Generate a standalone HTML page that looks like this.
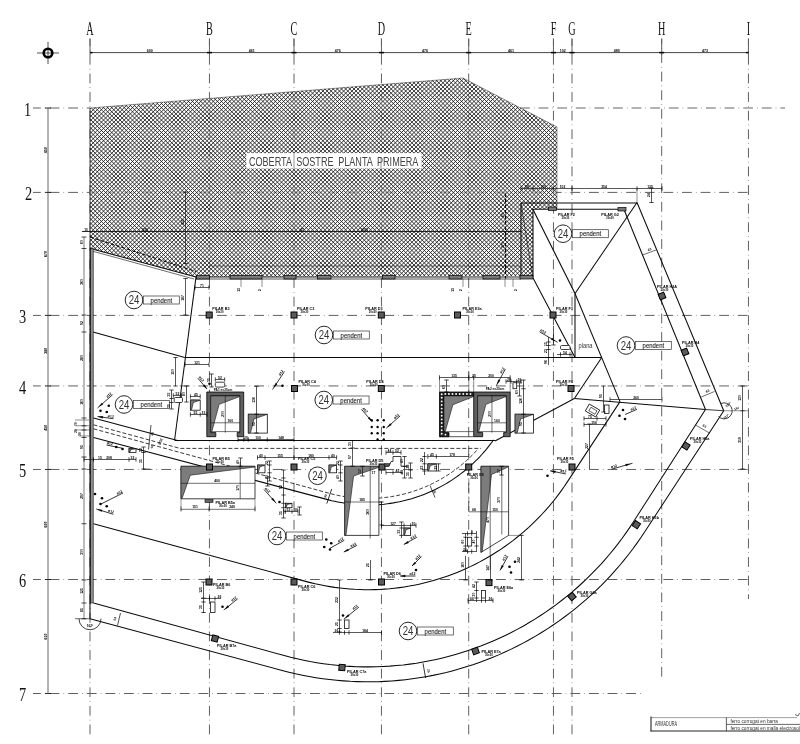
<!DOCTYPE html>
<html><head><meta charset="utf-8"><title>Planta</title>
<style>
html,body{margin:0;padding:0;background:#fff;}
body{width:800px;height:744px;overflow:hidden;font-family:"Liberation Sans",sans-serif;}
svg{display:block}
</style></head><body>
<svg width="800" height="744" viewBox="0 0 800 744">
<defs>
<pattern id="xh" width="2.07" height="2.07" patternUnits="userSpaceOnUse">
<rect x="0" y="0" width="1.035" height="1.035" fill="#222"/>
<rect x="1.035" y="1.035" width="1.035" height="1.035" fill="#222"/>
</pattern>
<pattern id="dg" width="1.6" height="1.6" patternUnits="userSpaceOnUse" patternTransform="rotate(-45)">
<rect x="0" y="0" width="1.6" height="0.9" fill="#333"/>
</pattern>
</defs>
<rect width="800" height="744" fill="#fff"/>
<g opacity="0.999">
<line x1="90.00" y1="38.60" x2="90.00" y2="738.00" stroke="#606060" stroke-width="1.0" stroke-dasharray="9.8 4.1 0.6 4.1" stroke-dashoffset="2.3"/>
<line x1="209.45" y1="38.60" x2="209.45" y2="738.00" stroke="#606060" stroke-width="1.0" stroke-dasharray="9.8 4.1 0.6 4.1" stroke-dashoffset="2.3"/>
<line x1="294.00" y1="38.60" x2="294.00" y2="738.00" stroke="#606060" stroke-width="1.0" stroke-dasharray="9.8 4.1 0.6 4.1" stroke-dashoffset="2.3"/>
<line x1="381.45" y1="38.60" x2="381.45" y2="738.00" stroke="#606060" stroke-width="1.0" stroke-dasharray="9.8 4.1 0.6 4.1" stroke-dashoffset="2.3"/>
<line x1="468.70" y1="38.60" x2="468.70" y2="738.00" stroke="#606060" stroke-width="1.0" stroke-dasharray="9.8 4.1 0.6 4.1" stroke-dashoffset="2.3"/>
<line x1="553.45" y1="38.60" x2="553.45" y2="738.00" stroke="#606060" stroke-width="1.0" stroke-dasharray="9.8 4.1 0.6 4.1" stroke-dashoffset="2.3"/>
<line x1="572.00" y1="38.60" x2="572.00" y2="738.00" stroke="#606060" stroke-width="1.0" stroke-dasharray="9.8 4.1 0.6 4.1" stroke-dashoffset="2.3"/>
<line x1="661.70" y1="38.60" x2="661.70" y2="677.50" stroke="#606060" stroke-width="1.0" stroke-dasharray="9.8 4.1 0.6 4.1" stroke-dashoffset="4.1"/>
<line x1="748.45" y1="38.60" x2="748.45" y2="599.00" stroke="#606060" stroke-width="1.0" stroke-dasharray="9.8 4.1 0.6 4.1" stroke-dashoffset="2.3"/>
<line x1="33.00" y1="108.00" x2="90.00" y2="108.00" stroke="#606060" stroke-width="1.0" stroke-dasharray="9.8 4.1 0.6 4.1" stroke-dashoffset="2.0"/>
<line x1="520.00" y1="108.00" x2="785.00" y2="108.00" stroke="#999" stroke-width="1.5" stroke-dasharray="9.8 4.1 0.6 4.1" stroke-dashoffset="0"/>
<line x1="33.00" y1="192.40" x2="750.00" y2="192.40" stroke="#606060" stroke-width="1.0" stroke-dasharray="9.8 4.1 0.6 4.1" stroke-dashoffset="2.0"/>
<line x1="33.00" y1="315.40" x2="750.00" y2="315.40" stroke="#606060" stroke-width="1.0" stroke-dasharray="9.8 4.1 0.6 4.1" stroke-dashoffset="2.0"/>
<line x1="33.00" y1="385.95" x2="750.00" y2="385.95" stroke="#606060" stroke-width="1.0" stroke-dasharray="9.8 4.1 0.6 4.1" stroke-dashoffset="2.0"/>
<line x1="33.00" y1="469.45" x2="750.00" y2="469.45" stroke="#606060" stroke-width="1.0" stroke-dasharray="9.8 4.1 0.6 4.1" stroke-dashoffset="2.0"/>
<line x1="33.00" y1="579.50" x2="750.00" y2="579.50" stroke="#606060" stroke-width="1.0" stroke-dasharray="9.8 4.1 0.6 4.1" stroke-dashoffset="2.0"/>
<line x1="33.00" y1="693.50" x2="644.50" y2="693.50" stroke="#606060" stroke-width="1.0" stroke-dasharray="9.8 4.1 0.6 4.1" stroke-dashoffset="2.0"/>
<path d="M90.00 108.00 L463.00 78.00 L557.00 127.00 L557.00 209.00 L533.00 209.00 L533.00 276.00 L196.00 277.00 L90.00 248.50 Z" stroke="none" stroke-width="0" fill="#fff" fill-opacity="0.6"/>
<clipPath id="hc"><path d="M90.00 108.00 L463.00 78.00 L557.00 127.00 L557.00 209.00 L533.00 209.00 L533.00 276.00 L196.00 277.00 L90.00 248.50 Z"/></clipPath>
<path d="M85.46 76.00L-117.54 279.00M89.60 76.00L-113.40 279.00M93.74 76.00L-109.26 279.00M97.88 76.00L-105.12 279.00M102.02 76.00L-100.98 279.00M106.16 76.00L-96.84 279.00M110.30 76.00L-92.70 279.00M114.44 76.00L-88.56 279.00M118.58 76.00L-84.42 279.00M122.72 76.00L-80.28 279.00M126.86 76.00L-76.14 279.00M131.00 76.00L-72.00 279.00M135.14 76.00L-67.86 279.00M139.28 76.00L-63.72 279.00M143.42 76.00L-59.58 279.00M147.56 76.00L-55.44 279.00M151.70 76.00L-51.30 279.00M155.84 76.00L-47.16 279.00M159.98 76.00L-43.02 279.00M164.12 76.00L-38.88 279.00M168.26 76.00L-34.74 279.00M172.40 76.00L-30.60 279.00M176.54 76.00L-26.46 279.00M180.68 76.00L-22.32 279.00M184.82 76.00L-18.18 279.00M188.96 76.00L-14.04 279.00M193.10 76.00L-9.90 279.00M197.24 76.00L-5.76 279.00M201.38 76.00L-1.62 279.00M205.52 76.00L2.52 279.00M209.66 76.00L6.66 279.00M213.80 76.00L10.80 279.00M217.94 76.00L14.94 279.00M222.08 76.00L19.08 279.00M226.22 76.00L23.22 279.00M230.36 76.00L27.36 279.00M234.50 76.00L31.50 279.00M238.64 76.00L35.64 279.00M242.78 76.00L39.78 279.00M246.92 76.00L43.92 279.00M251.06 76.00L48.06 279.00M255.20 76.00L52.20 279.00M259.34 76.00L56.34 279.00M263.48 76.00L60.48 279.00M267.62 76.00L64.62 279.00M271.76 76.00L68.76 279.00M275.90 76.00L72.90 279.00M280.04 76.00L77.04 279.00M284.18 76.00L81.18 279.00M288.32 76.00L85.32 279.00M292.46 76.00L89.46 279.00M296.60 76.00L93.60 279.00M300.74 76.00L97.74 279.00M304.88 76.00L101.88 279.00M309.02 76.00L106.02 279.00M313.16 76.00L110.16 279.00M317.30 76.00L114.30 279.00M321.44 76.00L118.44 279.00M325.58 76.00L122.58 279.00M329.72 76.00L126.72 279.00M333.86 76.00L130.86 279.00M338.00 76.00L135.00 279.00M342.14 76.00L139.14 279.00M346.28 76.00L143.28 279.00M350.42 76.00L147.42 279.00M354.56 76.00L151.56 279.00M358.70 76.00L155.70 279.00M362.84 76.00L159.84 279.00M366.98 76.00L163.98 279.00M371.12 76.00L168.12 279.00M375.26 76.00L172.26 279.00M379.40 76.00L176.40 279.00M383.54 76.00L180.54 279.00M387.68 76.00L184.68 279.00M391.82 76.00L188.82 279.00M395.96 76.00L192.96 279.00M400.10 76.00L197.10 279.00M404.24 76.00L201.24 279.00M408.38 76.00L205.38 279.00M412.52 76.00L209.52 279.00M416.66 76.00L213.66 279.00M420.80 76.00L217.80 279.00M424.94 76.00L221.94 279.00M429.08 76.00L226.08 279.00M433.22 76.00L230.22 279.00M437.36 76.00L234.36 279.00M441.50 76.00L238.50 279.00M445.64 76.00L242.64 279.00M449.78 76.00L246.78 279.00M453.92 76.00L250.92 279.00M458.06 76.00L255.06 279.00M462.20 76.00L259.20 279.00M466.34 76.00L263.34 279.00M470.48 76.00L267.48 279.00M474.62 76.00L271.62 279.00M478.76 76.00L275.76 279.00M482.90 76.00L279.90 279.00M487.04 76.00L284.04 279.00M491.18 76.00L288.18 279.00M495.32 76.00L292.32 279.00M499.46 76.00L296.46 279.00M503.60 76.00L300.60 279.00M507.74 76.00L304.74 279.00M511.88 76.00L308.88 279.00M516.02 76.00L313.02 279.00M520.16 76.00L317.16 279.00M524.30 76.00L321.30 279.00M528.44 76.00L325.44 279.00M532.58 76.00L329.58 279.00M536.72 76.00L333.72 279.00M540.86 76.00L337.86 279.00M545.00 76.00L342.00 279.00M549.14 76.00L346.14 279.00M553.28 76.00L350.28 279.00M557.42 76.00L354.42 279.00M561.56 76.00L358.56 279.00M565.70 76.00L362.70 279.00M569.84 76.00L366.84 279.00M573.98 76.00L370.98 279.00M578.12 76.00L375.12 279.00M582.26 76.00L379.26 279.00M586.40 76.00L383.40 279.00M590.54 76.00L387.54 279.00M594.68 76.00L391.68 279.00M598.82 76.00L395.82 279.00M602.96 76.00L399.96 279.00M607.10 76.00L404.10 279.00M611.24 76.00L408.24 279.00M615.38 76.00L412.38 279.00M619.52 76.00L416.52 279.00M623.66 76.00L420.66 279.00M627.80 76.00L424.80 279.00M631.94 76.00L428.94 279.00M636.08 76.00L433.08 279.00M640.22 76.00L437.22 279.00M644.36 76.00L441.36 279.00M648.50 76.00L445.50 279.00M652.64 76.00L449.64 279.00M656.78 76.00L453.78 279.00M660.92 76.00L457.92 279.00M665.06 76.00L462.06 279.00M669.20 76.00L466.20 279.00M673.34 76.00L470.34 279.00M677.48 76.00L474.48 279.00M681.62 76.00L478.62 279.00M685.76 76.00L482.76 279.00M689.90 76.00L486.90 279.00M694.04 76.00L491.04 279.00M698.18 76.00L495.18 279.00M702.32 76.00L499.32 279.00M706.46 76.00L503.46 279.00M710.60 76.00L507.60 279.00M714.74 76.00L511.74 279.00M718.88 76.00L515.88 279.00M723.02 76.00L520.02 279.00M727.16 76.00L524.16 279.00M731.30 76.00L528.30 279.00M735.44 76.00L532.44 279.00M739.58 76.00L536.58 279.00M743.72 76.00L540.72 279.00M747.86 76.00L544.86 279.00M752.00 76.00L549.00 279.00M756.14 76.00L553.14 279.00M760.28 76.00L557.28 279.00M-118.58 76.00L84.42 279.00M-114.44 76.00L88.56 279.00M-110.30 76.00L92.70 279.00M-106.16 76.00L96.84 279.00M-102.02 76.00L100.98 279.00M-97.88 76.00L105.12 279.00M-93.74 76.00L109.26 279.00M-89.60 76.00L113.40 279.00M-85.46 76.00L117.54 279.00M-81.32 76.00L121.68 279.00M-77.18 76.00L125.82 279.00M-73.04 76.00L129.96 279.00M-68.90 76.00L134.10 279.00M-64.76 76.00L138.24 279.00M-60.62 76.00L142.38 279.00M-56.48 76.00L146.52 279.00M-52.34 76.00L150.66 279.00M-48.20 76.00L154.80 279.00M-44.06 76.00L158.94 279.00M-39.92 76.00L163.08 279.00M-35.78 76.00L167.22 279.00M-31.64 76.00L171.36 279.00M-27.50 76.00L175.50 279.00M-23.36 76.00L179.64 279.00M-19.22 76.00L183.78 279.00M-15.08 76.00L187.92 279.00M-10.94 76.00L192.06 279.00M-6.80 76.00L196.20 279.00M-2.66 76.00L200.34 279.00M1.48 76.00L204.48 279.00M5.62 76.00L208.62 279.00M9.76 76.00L212.76 279.00M13.90 76.00L216.90 279.00M18.04 76.00L221.04 279.00M22.18 76.00L225.18 279.00M26.32 76.00L229.32 279.00M30.46 76.00L233.46 279.00M34.60 76.00L237.60 279.00M38.74 76.00L241.74 279.00M42.88 76.00L245.88 279.00M47.02 76.00L250.02 279.00M51.16 76.00L254.16 279.00M55.30 76.00L258.30 279.00M59.44 76.00L262.44 279.00M63.58 76.00L266.58 279.00M67.72 76.00L270.72 279.00M71.86 76.00L274.86 279.00M76.00 76.00L279.00 279.00M80.14 76.00L283.14 279.00M84.28 76.00L287.28 279.00M88.42 76.00L291.42 279.00M92.56 76.00L295.56 279.00M96.70 76.00L299.70 279.00M100.84 76.00L303.84 279.00M104.98 76.00L307.98 279.00M109.12 76.00L312.12 279.00M113.26 76.00L316.26 279.00M117.40 76.00L320.40 279.00M121.54 76.00L324.54 279.00M125.68 76.00L328.68 279.00M129.82 76.00L332.82 279.00M133.96 76.00L336.96 279.00M138.10 76.00L341.10 279.00M142.24 76.00L345.24 279.00M146.38 76.00L349.38 279.00M150.52 76.00L353.52 279.00M154.66 76.00L357.66 279.00M158.80 76.00L361.80 279.00M162.94 76.00L365.94 279.00M167.08 76.00L370.08 279.00M171.22 76.00L374.22 279.00M175.36 76.00L378.36 279.00M179.50 76.00L382.50 279.00M183.64 76.00L386.64 279.00M187.78 76.00L390.78 279.00M191.92 76.00L394.92 279.00M196.06 76.00L399.06 279.00M200.20 76.00L403.20 279.00M204.34 76.00L407.34 279.00M208.48 76.00L411.48 279.00M212.62 76.00L415.62 279.00M216.76 76.00L419.76 279.00M220.90 76.00L423.90 279.00M225.04 76.00L428.04 279.00M229.18 76.00L432.18 279.00M233.32 76.00L436.32 279.00M237.46 76.00L440.46 279.00M241.60 76.00L444.60 279.00M245.74 76.00L448.74 279.00M249.88 76.00L452.88 279.00M254.02 76.00L457.02 279.00M258.16 76.00L461.16 279.00M262.30 76.00L465.30 279.00M266.44 76.00L469.44 279.00M270.58 76.00L473.58 279.00M274.72 76.00L477.72 279.00M278.86 76.00L481.86 279.00M283.00 76.00L486.00 279.00M287.14 76.00L490.14 279.00M291.28 76.00L494.28 279.00M295.42 76.00L498.42 279.00M299.56 76.00L502.56 279.00M303.70 76.00L506.70 279.00M307.84 76.00L510.84 279.00M311.98 76.00L514.98 279.00M316.12 76.00L519.12 279.00M320.26 76.00L523.26 279.00M324.40 76.00L527.40 279.00M328.54 76.00L531.54 279.00M332.68 76.00L535.68 279.00M336.82 76.00L539.82 279.00M340.96 76.00L543.96 279.00M345.10 76.00L548.10 279.00M349.24 76.00L552.24 279.00M353.38 76.00L556.38 279.00M357.52 76.00L560.52 279.00M361.66 76.00L564.66 279.00M365.80 76.00L568.80 279.00M369.94 76.00L572.94 279.00M374.08 76.00L577.08 279.00M378.22 76.00L581.22 279.00M382.36 76.00L585.36 279.00M386.50 76.00L589.50 279.00M390.64 76.00L593.64 279.00M394.78 76.00L597.78 279.00M398.92 76.00L601.92 279.00M403.06 76.00L606.06 279.00M407.20 76.00L610.20 279.00M411.34 76.00L614.34 279.00M415.48 76.00L618.48 279.00M419.62 76.00L622.62 279.00M423.76 76.00L626.76 279.00M427.90 76.00L630.90 279.00M432.04 76.00L635.04 279.00M436.18 76.00L639.18 279.00M440.32 76.00L643.32 279.00M444.46 76.00L647.46 279.00M448.60 76.00L651.60 279.00M452.74 76.00L655.74 279.00M456.88 76.00L659.88 279.00M461.02 76.00L664.02 279.00M465.16 76.00L668.16 279.00M469.30 76.00L672.30 279.00M473.44 76.00L676.44 279.00M477.58 76.00L680.58 279.00M481.72 76.00L684.72 279.00M485.86 76.00L688.86 279.00M490.00 76.00L693.00 279.00M494.14 76.00L697.14 279.00M498.28 76.00L701.28 279.00M502.42 76.00L705.42 279.00M506.56 76.00L709.56 279.00M510.70 76.00L713.70 279.00M514.84 76.00L717.84 279.00M518.98 76.00L721.98 279.00M523.12 76.00L726.12 279.00M527.26 76.00L730.26 279.00M531.40 76.00L734.40 279.00M535.54 76.00L738.54 279.00M539.68 76.00L742.68 279.00M543.82 76.00L746.82 279.00M547.96 76.00L750.96 279.00M552.10 76.00L755.10 279.00M556.24 76.00L759.24 279.00" stroke="#202020" stroke-width="0.9" fill="none" clip-path="url(#hc)"/>
<path d="M90.00 108.00 L463.00 78.00 L557.00 127.00 L557.00 209.00" stroke="#333" stroke-width="0.5" fill="none" />
<line x1="90.00" y1="108.00" x2="90.00" y2="248.50" stroke="#222" stroke-width="0.8" />
<text transform="translate(90.00 34.60) scale(0.55 1)" font-family="Liberation Serif" font-size="18.5" text-anchor="middle" font-weight="normal" fill="#111" >A</text>
<text transform="translate(209.45 34.60) scale(0.55 1)" font-family="Liberation Serif" font-size="18.5" text-anchor="middle" font-weight="normal" fill="#111" >B</text>
<text transform="translate(294.00 34.60) scale(0.55 1)" font-family="Liberation Serif" font-size="18.5" text-anchor="middle" font-weight="normal" fill="#111" >C</text>
<text transform="translate(381.45 34.60) scale(0.55 1)" font-family="Liberation Serif" font-size="18.5" text-anchor="middle" font-weight="normal" fill="#111" >D</text>
<text transform="translate(468.70 34.60) scale(0.55 1)" font-family="Liberation Serif" font-size="18.5" text-anchor="middle" font-weight="normal" fill="#111" >E</text>
<text transform="translate(553.45 34.60) scale(0.55 1)" font-family="Liberation Serif" font-size="18.5" text-anchor="middle" font-weight="normal" fill="#111" >F</text>
<text transform="translate(572.00 34.60) scale(0.55 1)" font-family="Liberation Serif" font-size="18.5" text-anchor="middle" font-weight="normal" fill="#111" >G</text>
<text transform="translate(661.70 34.60) scale(0.55 1)" font-family="Liberation Serif" font-size="18.5" text-anchor="middle" font-weight="normal" fill="#111" >H</text>
<text transform="translate(748.45 34.60) scale(0.55 1)" font-family="Liberation Serif" font-size="18.5" text-anchor="middle" font-weight="normal" fill="#111" >I</text>
<text transform="translate(27.50 115.80) scale(0.8 1)" font-family="Liberation Serif" font-size="18" text-anchor="middle" font-weight="normal" fill="#111" >1</text>
<text transform="translate(28.50 200.20) scale(0.8 1)" font-family="Liberation Serif" font-size="18" text-anchor="middle" font-weight="normal" fill="#111" >2</text>
<text transform="translate(22.50 323.20) scale(0.8 1)" font-family="Liberation Serif" font-size="18" text-anchor="middle" font-weight="normal" fill="#111" >3</text>
<text transform="translate(22.50 393.75) scale(0.8 1)" font-family="Liberation Serif" font-size="18" text-anchor="middle" font-weight="normal" fill="#111" >4</text>
<text transform="translate(22.50 477.25) scale(0.8 1)" font-family="Liberation Serif" font-size="18" text-anchor="middle" font-weight="normal" fill="#111" >5</text>
<text transform="translate(22.50 587.30) scale(0.8 1)" font-family="Liberation Serif" font-size="18" text-anchor="middle" font-weight="normal" fill="#111" >6</text>
<text transform="translate(22.50 701.30) scale(0.8 1)" font-family="Liberation Serif" font-size="18" text-anchor="middle" font-weight="normal" fill="#111" >7</text>
<circle cx="48.00" cy="53.00" r="4.30" stroke="#000" stroke-width="2.6" fill="none"/>
<line x1="37.00" y1="53.00" x2="59.00" y2="53.00" stroke="#000" stroke-width="0.7" />
<line x1="48.00" y1="42.00" x2="48.00" y2="64.00" stroke="#000" stroke-width="0.7" />
<line x1="90.00" y1="52.60" x2="748.50" y2="52.60" stroke="#333" stroke-width="0.9" />
<line x1="90.00" y1="38.60" x2="90.00" y2="55.00" stroke="#606060" stroke-width="1.0" />
<line x1="209.45" y1="38.60" x2="209.45" y2="55.00" stroke="#606060" stroke-width="1.0" />
<line x1="294.00" y1="38.60" x2="294.00" y2="55.00" stroke="#606060" stroke-width="1.0" />
<line x1="381.45" y1="38.60" x2="381.45" y2="55.00" stroke="#606060" stroke-width="1.0" />
<line x1="468.70" y1="38.60" x2="468.70" y2="55.00" stroke="#606060" stroke-width="1.0" />
<line x1="553.45" y1="38.60" x2="553.45" y2="55.00" stroke="#606060" stroke-width="1.0" />
<line x1="572.00" y1="38.60" x2="572.00" y2="55.00" stroke="#606060" stroke-width="1.0" />
<line x1="661.70" y1="38.60" x2="661.70" y2="55.00" stroke="#606060" stroke-width="1.0" />
<line x1="748.45" y1="38.60" x2="748.45" y2="55.00" stroke="#606060" stroke-width="1.0" />
<line x1="90.00" y1="52.60" x2="92.50" y2="52.60" stroke="#000" stroke-width="1.5" />
<line x1="206.95" y1="52.60" x2="211.95" y2="52.60" stroke="#000" stroke-width="1.5" />
<line x1="291.50" y1="52.60" x2="296.50" y2="52.60" stroke="#000" stroke-width="1.5" />
<line x1="378.95" y1="52.60" x2="383.95" y2="52.60" stroke="#000" stroke-width="1.5" />
<line x1="466.20" y1="52.60" x2="471.20" y2="52.60" stroke="#000" stroke-width="1.5" />
<line x1="550.95" y1="52.60" x2="555.95" y2="52.60" stroke="#000" stroke-width="1.5" />
<line x1="569.50" y1="52.60" x2="574.50" y2="52.60" stroke="#000" stroke-width="1.5" />
<line x1="659.20" y1="52.60" x2="664.20" y2="52.60" stroke="#000" stroke-width="1.5" />
<line x1="745.95" y1="52.60" x2="748.45" y2="52.60" stroke="#000" stroke-width="1.5" />
<text transform="translate(149.72 51.50)" font-family="Liberation Sans" font-size="3.6" text-anchor="middle" font-weight="bold" fill="#000" >600</text>
<text transform="translate(251.72 51.50)" font-family="Liberation Sans" font-size="3.6" text-anchor="middle" font-weight="bold" fill="#000" >461</text>
<text transform="translate(337.73 51.50)" font-family="Liberation Sans" font-size="3.6" text-anchor="middle" font-weight="bold" fill="#000" >476</text>
<text transform="translate(425.07 51.50)" font-family="Liberation Sans" font-size="3.6" text-anchor="middle" font-weight="bold" fill="#000" >476</text>
<text transform="translate(511.08 51.50)" font-family="Liberation Sans" font-size="3.6" text-anchor="middle" font-weight="bold" fill="#000" >461</text>
<text transform="translate(562.73 51.50)" font-family="Liberation Sans" font-size="3.6" text-anchor="middle" font-weight="bold" fill="#000" >102</text>
<text transform="translate(616.85 51.50)" font-family="Liberation Sans" font-size="3.6" text-anchor="middle" font-weight="bold" fill="#000" >489</text>
<text transform="translate(705.08 51.50)" font-family="Liberation Sans" font-size="3.6" text-anchor="middle" font-weight="bold" fill="#000" >473</text>
<line x1="48.00" y1="108.00" x2="48.00" y2="693.00" stroke="#555" stroke-width="0.9" />
<line x1="45.00" y1="108.00" x2="51.00" y2="108.00" stroke="#000" stroke-width="0.8" />
<line x1="45.00" y1="192.40" x2="51.00" y2="192.40" stroke="#000" stroke-width="0.8" />
<line x1="45.00" y1="315.40" x2="51.00" y2="315.40" stroke="#000" stroke-width="0.8" />
<line x1="45.00" y1="385.95" x2="51.00" y2="385.95" stroke="#000" stroke-width="0.8" />
<line x1="45.00" y1="469.45" x2="51.00" y2="469.45" stroke="#000" stroke-width="0.8" />
<line x1="45.00" y1="579.50" x2="51.00" y2="579.50" stroke="#000" stroke-width="0.8" />
<line x1="45.00" y1="693.50" x2="51.00" y2="693.50" stroke="#000" stroke-width="0.8" />
<text transform="translate(46.50 150.20) rotate(-90)" font-family="Liberation Sans" font-size="3.6" text-anchor="middle" font-weight="bold" fill="#000" >450</text>
<text transform="translate(46.50 253.90) rotate(-90)" font-family="Liberation Sans" font-size="3.6" text-anchor="middle" font-weight="bold" fill="#000" >670</text>
<text transform="translate(46.50 350.67) rotate(-90)" font-family="Liberation Sans" font-size="3.6" text-anchor="middle" font-weight="bold" fill="#000" >380</text>
<text transform="translate(46.50 427.70) rotate(-90)" font-family="Liberation Sans" font-size="3.6" text-anchor="middle" font-weight="bold" fill="#000" >450</text>
<text transform="translate(46.50 524.48) rotate(-90)" font-family="Liberation Sans" font-size="3.6" text-anchor="middle" font-weight="bold" fill="#000" >600</text>
<text transform="translate(46.50 636.50) rotate(-90)" font-family="Liberation Sans" font-size="3.6" text-anchor="middle" font-weight="bold" fill="#000" >610</text>
<line x1="84.00" y1="237.00" x2="84.00" y2="618.75" stroke="#222" stroke-width="0.6" />
<line x1="81.50" y1="237.00" x2="86.50" y2="237.00" stroke="#000" stroke-width="0.7" />
<line x1="81.50" y1="248.50" x2="86.50" y2="248.50" stroke="#000" stroke-width="0.7" />
<line x1="81.50" y1="315.00" x2="86.50" y2="315.00" stroke="#000" stroke-width="0.7" />
<line x1="81.50" y1="332.00" x2="86.50" y2="332.00" stroke="#000" stroke-width="0.7" />
<line x1="81.50" y1="418.00" x2="86.50" y2="418.00" stroke="#000" stroke-width="0.7" />
<line x1="81.50" y1="425.75" x2="86.50" y2="425.75" stroke="#000" stroke-width="0.7" />
<line x1="81.50" y1="430.00" x2="86.50" y2="430.00" stroke="#000" stroke-width="0.7" />
<line x1="81.50" y1="437.50" x2="86.50" y2="437.50" stroke="#000" stroke-width="0.7" />
<line x1="81.50" y1="457.00" x2="86.50" y2="457.00" stroke="#000" stroke-width="0.7" />
<line x1="81.50" y1="469.00" x2="86.50" y2="469.00" stroke="#000" stroke-width="0.7" />
<line x1="81.50" y1="523.75" x2="86.50" y2="523.75" stroke="#000" stroke-width="0.7" />
<line x1="81.50" y1="580.00" x2="86.50" y2="580.00" stroke="#000" stroke-width="0.7" />
<line x1="81.50" y1="603.00" x2="86.50" y2="603.00" stroke="#000" stroke-width="0.7" />
<line x1="81.50" y1="618.75" x2="86.50" y2="618.75" stroke="#000" stroke-width="0.7" />
<text transform="translate(82.50 242.00) rotate(-90)" font-family="Liberation Sans" font-size="3.4" text-anchor="middle" font-weight="bold" fill="#000" >60</text>
<text transform="translate(82.50 282.00) rotate(-90)" font-family="Liberation Sans" font-size="3.4" text-anchor="middle" font-weight="bold" fill="#000" >360</text>
<text transform="translate(82.50 323.00) rotate(-90)" font-family="Liberation Sans" font-size="3.4" text-anchor="middle" font-weight="bold" fill="#000" >92</text>
<text transform="translate(82.50 358.00) rotate(-90)" font-family="Liberation Sans" font-size="3.4" text-anchor="middle" font-weight="bold" fill="#000" >280</text>
<text transform="translate(82.50 402.00) rotate(-90)" font-family="Liberation Sans" font-size="3.4" text-anchor="middle" font-weight="bold" fill="#000" >160</text>
<text transform="translate(82.50 447.00) rotate(-90)" font-family="Liberation Sans" font-size="3.4" text-anchor="middle" font-weight="bold" fill="#000" >95</text>
<text transform="translate(82.50 496.00) rotate(-90)" font-family="Liberation Sans" font-size="3.4" text-anchor="middle" font-weight="bold" fill="#000" >297</text>
<text transform="translate(82.50 552.00) rotate(-90)" font-family="Liberation Sans" font-size="3.4" text-anchor="middle" font-weight="bold" fill="#000" >300</text>
<text transform="translate(82.50 591.00) rotate(-90)" font-family="Liberation Sans" font-size="3.4" text-anchor="middle" font-weight="bold" fill="#000" >125</text>
<text transform="translate(82.50 610.00) rotate(-90)" font-family="Liberation Sans" font-size="3.4" text-anchor="middle" font-weight="bold" fill="#000" >85</text>
<line x1="75.00" y1="618.75" x2="90.00" y2="618.75" stroke="#000" stroke-width="0.6" />
<line x1="82.00" y1="231.50" x2="521.00" y2="231.50" stroke="#111" stroke-width="0.9" />
<text transform="translate(86.00 231.00)" font-family="Liberation Sans" font-size="3.2" text-anchor="middle" font-weight="bold" fill="#000" >15</text>
<line x1="196.00" y1="277.00" x2="533.00" y2="277.00" stroke="#0a0a0a" stroke-width="0.9" />
<line x1="196.00" y1="279.00" x2="521.00" y2="279.00" stroke="#0a0a0a" stroke-width="0.7" />
<line x1="90.50" y1="248.50" x2="196.00" y2="277.00" stroke="#0a0a0a" stroke-width="1.05" />
<line x1="92.00" y1="251.00" x2="194.00" y2="279.00" stroke="#0a0a0a" stroke-width="0.6" />
<line x1="90.00" y1="237.00" x2="196.00" y2="271.50" stroke="#000" stroke-width="1.0" stroke-dasharray="3.5 2"/>
<line x1="521.00" y1="203.00" x2="637.00" y2="203.00" stroke="#0a0a0a" stroke-width="1.05" />
<line x1="533.00" y1="209.30" x2="624.00" y2="209.30" stroke="#0a0a0a" stroke-width="1.05" />
<line x1="521.00" y1="203.00" x2="521.00" y2="277.00" stroke="#0a0a0a" stroke-width="1.05" />
<line x1="533.00" y1="209.30" x2="533.00" y2="277.00" stroke="#0a0a0a" stroke-width="1.05" />
<line x1="521.00" y1="203.00" x2="532.50" y2="276.00" stroke="#0a0a0a" stroke-width="0.6" />
<line x1="637.00" y1="202.50" x2="723.75" y2="410.75" stroke="#0a0a0a" stroke-width="1.05" />
<line x1="624.00" y1="209.50" x2="705.50" y2="409.50" stroke="#0a0a0a" stroke-width="1.05" />
<line x1="637.00" y1="202.50" x2="575.00" y2="293.50" stroke="#0a0a0a" stroke-width="1.05" />
<line x1="533.00" y1="209.50" x2="575.00" y2="293.50" stroke="#0a0a0a" stroke-width="1.05" />
<line x1="532.50" y1="277.00" x2="575.00" y2="357.50" stroke="#0a0a0a" stroke-width="1.05" />
<line x1="575.00" y1="293.50" x2="575.00" y2="357.50" stroke="#0a0a0a" stroke-width="1.05" />
<line x1="575.00" y1="293.50" x2="620.00" y2="401.60" stroke="#0a0a0a" stroke-width="1.05" />
<line x1="184.80" y1="357.50" x2="601.70" y2="357.50" stroke="#0a0a0a" stroke-width="1.05" />
<line x1="93.00" y1="332.00" x2="184.80" y2="357.50" stroke="#0a0a0a" stroke-width="1.05" />
<line x1="196.00" y1="277.00" x2="174.60" y2="440.00" stroke="#0a0a0a" stroke-width="1.05" />
<line x1="601.70" y1="357.50" x2="574.40" y2="398.50" stroke="#0a0a0a" stroke-width="1.05" />
<line x1="574.40" y1="398.50" x2="705.50" y2="409.50" stroke="#0a0a0a" stroke-width="1.05" />
<line x1="705.50" y1="409.50" x2="723.75" y2="410.75" stroke="#0a0a0a" stroke-width="0.8" />
<line x1="495.00" y1="441.00" x2="574.40" y2="398.50" stroke="#0a0a0a" stroke-width="1.05" />
<line x1="174.60" y1="440.50" x2="495.00" y2="440.50" stroke="#0a0a0a" stroke-width="1.1" />
<rect x="90.30" y="248.50" width="2.90" height="354.50" stroke="#111" stroke-width="0.6" fill="#909090" />
<line x1="90.00" y1="248.50" x2="90.00" y2="603.00" stroke="#000" stroke-width="1.0" />
<line x1="90.00" y1="603.00" x2="90.00" y2="618.75" stroke="#0a0a0a" stroke-width="1.05" />
<path d="M90.00 618.75 L282.18 670.46 L288.88 672.18 L295.60 673.77 L302.36 675.21 L309.15 676.51 L315.96 677.67 L322.80 678.69 L329.65 679.57 L336.52 680.30 L343.41 680.88 L350.31 681.33 L357.21 681.62 L364.12 681.78 L371.03 681.79 L377.94 681.65 L384.85 681.37 L391.74 680.95 L398.63 680.38 L405.50 679.66 L412.36 678.81 L419.20 677.81 L426.02 676.66 L432.81 675.38 L439.57 673.95 L446.30 672.39 L453.00 670.68 L459.65 668.83 L466.27 666.84 L472.85 664.72 L479.38 662.45 L485.86 660.06 L492.29 657.52 L498.67 654.86 L504.98 652.05 L511.24 649.12 L517.44 646.06 L523.57 642.87 L529.63 639.55 L535.62 636.11 L541.54 632.54 L547.38 628.85 L553.14 625.03 L558.83 621.10 L564.43 617.05 L569.94 612.88 L575.36 608.60 L580.70 604.20 L585.94 599.70 L591.08 595.08 L596.13 590.36 L601.08 585.54 L605.92 580.61 L610.66 575.58 L615.30 570.46 L619.83 565.23 L624.24 559.92 L628.55 554.51 L632.74 549.02 L636.81 543.43 L640.77 537.77 L644.61 532.02 L723.75 410.75" stroke="#0a0a0a" stroke-width="1.05" fill="none" />
<path d="M93.50 603.00 L284.19 655.56 L290.64 657.27 L297.13 658.83 L303.65 660.26 L310.19 661.56 L316.76 662.71 L323.36 663.72 L329.98 664.60 L336.61 665.33 L343.25 665.93 L349.91 666.38 L356.58 666.69 L363.25 666.86 L369.92 666.89 L376.59 666.78 L383.26 666.53 L389.92 666.14 L396.57 665.60 L403.21 664.93 L409.84 664.11 L416.44 663.16 L423.02 662.06 L429.58 660.83 L436.11 659.46 L442.61 657.95 L449.08 656.30 L455.51 654.52 L461.90 652.60 L468.25 650.54 L474.55 648.36 L480.81 646.04 L487.01 643.58 L493.17 641.00 L499.26 638.29 L505.30 635.45 L511.28 632.48 L517.19 629.38 L523.04 626.17 L528.81 622.82 L534.52 619.36 L540.15 615.78 L545.70 612.08 L551.17 608.26 L556.56 604.33 L561.87 600.28 L567.09 596.12 L572.22 591.86 L577.26 587.48 L582.20 583.00 L587.05 578.42 L591.81 573.73 L596.46 568.95 L601.01 564.07 L605.45 559.09 L609.79 554.02 L614.02 548.86 L618.14 543.61 L622.15 538.28 L626.04 532.86 L629.82 527.36 L633.48 521.78 L705.50 409.50" stroke="#0a0a0a" stroke-width="1.05" fill="none" />
<path d="M93.50 523.75 L305.54 581.37 L310.37 582.62 L315.21 583.78 L320.09 584.83 L324.98 585.78 L329.89 586.63 L334.82 587.38 L339.76 588.02 L344.72 588.56 L349.68 588.99 L354.66 589.33 L359.64 589.55 L364.62 589.68 L369.61 589.69 L374.59 589.61 L379.57 589.42 L384.55 589.12 L389.52 588.73 L394.48 588.22 L399.42 587.62 L404.36 586.91 L409.28 586.10 L414.18 585.18 L419.06 584.16 L423.91 583.04 L428.75 581.82 L433.55 580.50 L438.33 579.08 L443.08 577.56 L447.79 575.94 L452.47 574.22 L457.11 572.40 L461.72 570.49 L466.28 568.48 L470.80 566.38 L475.27 564.18 L479.70 561.89 L484.08 559.50 L488.40 557.03 L492.68 554.46 L496.90 551.81 L501.06 549.07 L505.17 546.24 L509.21 543.33 L513.20 540.33 L517.11 537.25 L520.97 534.09 L524.76 530.85 L528.48 527.53 L532.12 524.13 L535.70 520.66 L539.20 517.12 L542.63 513.50 L545.98 509.81 L549.26 506.05 L552.45 502.22 L555.57 498.33 L558.60 494.37 L561.54 490.35 L564.41 486.27 L567.18 482.13 L620.00 401.60" stroke="#0a0a0a" stroke-width="1.05" fill="none" />
<path d="M93.50 437.50 L328.65 499.87 L331.66 500.64 L334.69 501.34 L337.74 501.99 L340.79 502.57 L343.86 503.09 L346.94 503.55 L350.02 503.94 L353.12 504.28 L356.22 504.55 L359.32 504.75 L362.43 504.90 L365.54 504.98 L368.65 505.00 L371.76 504.95 L374.87 504.85 L377.98 504.68 L381.08 504.44 L384.18 504.15 L387.27 503.79 L390.35 503.36 L393.42 502.88 L396.49 502.33 L399.54 501.73 L402.58 501.06 L405.60 500.32 L408.61 499.53 L411.60 498.68 L414.58 497.76 L417.53 496.79 L420.46 495.76 L423.38 494.66 L426.27 493.51 L429.13 492.30 L431.98 491.03 L434.79 489.71 L437.58 488.33 L440.34 486.89 L443.07 485.39 L445.76 483.84 L448.43 482.24 L451.06 480.58 L453.66 478.87 L456.23 477.11 L458.76 475.30 L461.25 473.43 L463.70 471.52 L466.11 469.55 L468.48 467.54 L470.81 465.48 L473.10 463.37 L475.35 461.22 L477.55 459.02 L479.71 456.78 L481.82 454.49 L483.88 452.16 L485.90 449.80 L487.87 447.39 L489.79 444.94 L491.66 442.45 L493.47 439.92" stroke="#0a0a0a" stroke-width="1.05" fill="none" />
<path d="M93.50 428.80 L329.21 493.29 L331.84 493.98 L334.49 494.63 L337.15 495.23 L339.82 495.77 L342.49 496.27 L345.18 496.72 L347.88 497.12 L350.58 497.46 L353.29 497.76 L356.00 498.01 L358.72 498.21 L361.44 498.35 L364.16 498.45 L366.89 498.50 L369.61 498.49 L372.33 498.44 L375.06 498.33 L377.78 498.17 L380.49 497.97 L383.21 497.71 L385.91 497.40 L388.61 497.05 L391.31 496.64 L393.99 496.18 L396.67 495.68 L399.34 495.12 L401.99 494.52 L404.64 493.86 L407.27 493.16 L409.89 492.41 L412.49 491.60 L415.08 490.76 L417.66 489.86 L420.21 488.92 L422.75 487.92 L425.27 486.89 L427.77 485.80 L430.25 484.67 L432.70 483.49 L435.14 482.27 L437.55 481.01 L439.94 479.69 L442.30 478.34 L444.64 476.94 L446.95 475.50 L449.24 474.01 L451.49 472.49 L453.72 470.92 L455.92 469.31 L458.09 467.66 L460.22 465.97 L462.33 464.24 L464.40 462.47 L466.44 460.67 L468.45 458.83 L470.42 456.95 L472.36 455.03 L474.26 453.08 L476.12 451.09 L477.95 449.07" stroke="#0a0a0a" stroke-width="0.8" fill="none" stroke-dasharray="4 2"/>
<path d="M93.50 424.80 L180.00 448.40 L481.00 448.40" stroke="#0a0a0a" stroke-width="0.8" fill="none" stroke-dasharray="4 2"/>
<line x1="93.50" y1="418.00" x2="178.50" y2="440.70" stroke="#0a0a0a" stroke-width="1.05" />
<path d="M79 618.75 A11 11 0 0 0 101 618.75" stroke="#111" stroke-width="0.8" fill="none"/>
<path d="M721 403.5 A8 8 0 1 1 718.5 416.5" stroke="#111" stroke-width="0.8" fill="none"/>
<path d="M206.80 436.70 L206.80 392.00 L243.70 392.00 L243.70 436.70 L237.20 436.70 L237.20 432.60 L239.80 432.60 L239.80 395.90 L210.70 395.90 L210.70 432.60 L215.80 432.60 L215.80 436.70 Z" stroke="#000" stroke-width="0.8" fill="#606060" />
<path d="M210.70 395.90 L239.80 395.90 L239.80 396.50 L219.14 404.34 L211.86 431.60 L210.70 431.60 Z" fill="#7c7c7c" stroke="#111" stroke-width="0.6"/>
<line x1="211.86" y1="431.60" x2="239.80" y2="431.60" stroke="#111" stroke-width="0.6" />
<line x1="225.25" y1="395.90" x2="225.25" y2="432.60" stroke="#111" stroke-width="0.6" />
<line x1="210.70" y1="422.80" x2="239.80" y2="422.80" stroke="#111" stroke-width="0.6" />
<text transform="translate(224.25 414.00) rotate(-90)" font-family="Liberation Sans" font-size="3.4" text-anchor="middle" font-weight="bold" fill="#000" >200</text>
<text transform="translate(230.25 421.80)" font-family="Liberation Sans" font-size="3.4" text-anchor="middle" font-weight="bold" fill="#000" >160</text>
<path d="M439.50 436.70 L439.50 392.00 L473.70 392.00 L473.70 395.90 L444.00 395.90 L444.00 432.60 L449.00 432.60 L449.00 436.70 Z" stroke="#000" stroke-width="0.8" fill="#222" />
<circle cx="441.70" cy="394.20" r="0.95" stroke="none" stroke-width="0" fill="#fff"/>
<circle cx="441.70" cy="397.80" r="0.95" stroke="none" stroke-width="0" fill="#fff"/>
<circle cx="441.70" cy="401.40" r="0.95" stroke="none" stroke-width="0" fill="#fff"/>
<circle cx="441.70" cy="405.00" r="0.95" stroke="none" stroke-width="0" fill="#fff"/>
<circle cx="441.70" cy="408.60" r="0.95" stroke="none" stroke-width="0" fill="#fff"/>
<circle cx="441.70" cy="412.20" r="0.95" stroke="none" stroke-width="0" fill="#fff"/>
<circle cx="441.70" cy="415.80" r="0.95" stroke="none" stroke-width="0" fill="#fff"/>
<circle cx="441.70" cy="419.40" r="0.95" stroke="none" stroke-width="0" fill="#fff"/>
<circle cx="441.70" cy="423.00" r="0.95" stroke="none" stroke-width="0" fill="#fff"/>
<circle cx="441.70" cy="426.60" r="0.95" stroke="none" stroke-width="0" fill="#fff"/>
<circle cx="441.70" cy="430.20" r="0.95" stroke="none" stroke-width="0" fill="#fff"/>
<circle cx="441.70" cy="433.80" r="0.95" stroke="none" stroke-width="0" fill="#fff"/>
<circle cx="445.30" cy="394.00" r="0.95" stroke="none" stroke-width="0" fill="#fff"/>
<circle cx="448.90" cy="394.00" r="0.95" stroke="none" stroke-width="0" fill="#fff"/>
<circle cx="452.50" cy="394.00" r="0.95" stroke="none" stroke-width="0" fill="#fff"/>
<circle cx="456.10" cy="394.00" r="0.95" stroke="none" stroke-width="0" fill="#fff"/>
<circle cx="459.70" cy="394.00" r="0.95" stroke="none" stroke-width="0" fill="#fff"/>
<circle cx="463.30" cy="394.00" r="0.95" stroke="none" stroke-width="0" fill="#fff"/>
<circle cx="466.90" cy="394.00" r="0.95" stroke="none" stroke-width="0" fill="#fff"/>
<circle cx="470.50" cy="394.00" r="0.95" stroke="none" stroke-width="0" fill="#fff"/>
<circle cx="445.50" cy="434.70" r="0.90" stroke="none" stroke-width="0" fill="#fff"/>
<line x1="439.50" y1="436.70" x2="473.70" y2="436.70" stroke="#111" stroke-width="0.7" />
<path d="M444.00 395.90 L473.70 395.90 L473.70 396.50 L452.91 404.71 L445.19 431.60 L444.00 431.60 Z" fill="#7c7c7c" stroke="#111" stroke-width="0.6"/>
<line x1="444.00" y1="431.60" x2="473.70" y2="431.60" stroke="#111" stroke-width="0.6" />
<path d="M473.70 436.70 L473.70 392.00 L510.20 392.00 L510.20 436.70 L503.70 436.70 L503.70 432.60 L506.30 432.60 L506.30 395.90 L477.60 395.90 L477.60 432.60 L482.70 432.60 L482.70 436.70 Z" stroke="#000" stroke-width="0.8" fill="#606060" />
<path d="M477.60 395.90 L506.30 395.90 L506.30 396.50 L485.92 404.34 L478.75 431.60 L477.60 431.60 Z" fill="#7c7c7c" stroke="#111" stroke-width="0.6"/>
<line x1="478.75" y1="431.60" x2="506.30" y2="431.60" stroke="#111" stroke-width="0.6" />
<line x1="491.95" y1="395.90" x2="491.95" y2="432.60" stroke="#111" stroke-width="0.6" />
<line x1="477.60" y1="422.80" x2="506.30" y2="422.80" stroke="#111" stroke-width="0.6" />
<text transform="translate(490.95 414.00) rotate(-90)" font-family="Liberation Sans" font-size="3.4" text-anchor="middle" font-weight="bold" fill="#000" >200</text>
<text transform="translate(496.95 421.80)" font-family="Liberation Sans" font-size="3.4" text-anchor="middle" font-weight="bold" fill="#000" >160</text>
<path d="M181.00 466.30 L255.00 466.30 L255.00 498.80 L181.00 498.80 Z" stroke="#111" stroke-width="0.8" fill="#fff" />
<path d="M181.00 466.30 L255.00 466.30 L255.00 467.00 L190.30 475.20 L182.20 498.00 L181.00 498.80 Z" fill="#7c7c7c" stroke="#111" stroke-width="0.6"/>
<line x1="181.00" y1="483.30" x2="255.00" y2="483.30" stroke="#111" stroke-width="0.6" />
<text transform="translate(217.00 482.30)" font-family="Liberation Sans" font-size="3.4" text-anchor="middle" font-weight="bold" fill="#000" >400</text>
<line x1="240.20" y1="462.00" x2="240.20" y2="498.80" stroke="#111" stroke-width="0.6" />
<text transform="translate(238.60 488.00) rotate(-90)" font-family="Liberation Sans" font-size="3.4" text-anchor="middle" font-weight="bold" fill="#000" >170</text>
<line x1="181.00" y1="509.30" x2="255.00" y2="509.30" stroke="#111" stroke-width="0.6" />
<line x1="181.00" y1="506.50" x2="181.00" y2="511.50" stroke="#111" stroke-width="0.6" />
<line x1="209.00" y1="506.50" x2="209.00" y2="511.50" stroke="#111" stroke-width="0.6" />
<line x1="255.00" y1="506.50" x2="255.00" y2="511.50" stroke="#111" stroke-width="0.6" />
<line x1="181.00" y1="499.00" x2="181.00" y2="511.00" stroke="#333" stroke-width="0.5" />
<line x1="255.00" y1="499.00" x2="255.00" y2="511.00" stroke="#333" stroke-width="0.5" />
<text transform="translate(195.00 508.30)" font-family="Liberation Sans" font-size="3.4" text-anchor="middle" font-weight="bold" fill="#000" >151</text>
<text transform="translate(232.00 508.30)" font-family="Liberation Sans" font-size="3.4" text-anchor="middle" font-weight="bold" fill="#000" >249</text>
<path d="M344.70 466.30 L378.90 466.30 L378.90 535.40 L344.70 535.40 Z" stroke="#111" stroke-width="0.8" fill="#fff" />
<path d="M344.70 466.30 L378.90 466.30 L378.90 467.30 L353.60 476.00 L346.00 535.00 L344.70 535.40 Z" fill="#7c7c7c" stroke="#111" stroke-width="0.6"/>
<line x1="344.70" y1="502.00" x2="381.50" y2="502.00" stroke="#111" stroke-width="0.6" />
<text transform="translate(362.00 501.00)" font-family="Liberation Sans" font-size="3.4" text-anchor="middle" font-weight="bold" fill="#000" >185</text>
<line x1="370.20" y1="466.30" x2="370.20" y2="538.50" stroke="#111" stroke-width="0.6" />
<text transform="translate(368.60 512.00) rotate(-90)" font-family="Liberation Sans" font-size="3.4" text-anchor="middle" font-weight="bold" fill="#000" >360</text>
<path d="M481.00 466.30 L508.60 466.30 L508.60 535.40 L481.00 552.40 Z" stroke="#111" stroke-width="0.8" fill="#fff" />
<path d="M481.00 466.30 L508.60 466.30 L507.00 467.50 L491.50 474.50 L482.30 551.00 L481.00 552.40 Z" fill="#7c7c7c" stroke="#111" stroke-width="0.6"/>
<line x1="468.80" y1="511.80" x2="508.60" y2="511.80" stroke="#111" stroke-width="0.6" />
<text transform="translate(474.00 510.80)" font-family="Liberation Sans" font-size="3.4" text-anchor="middle" font-weight="bold" fill="#000" >68</text>
<text transform="translate(495.00 510.80)" font-family="Liberation Sans" font-size="3.4" text-anchor="middle" font-weight="bold" fill="#000" >150</text>
<line x1="501.80" y1="466.30" x2="501.80" y2="534.50" stroke="#111" stroke-width="0.6" />
<text transform="translate(500.20 500.00) rotate(-90)" font-family="Liberation Sans" font-size="3.4" text-anchor="middle" font-weight="bold" fill="#000" >370</text>
<line x1="490.20" y1="466.30" x2="490.20" y2="570.00" stroke="#111" stroke-width="0.6" />
<text transform="translate(488.60 520.00) rotate(-90)" font-family="Liberation Sans" font-size="3.4" text-anchor="middle" font-weight="bold" fill="#000" >470</text>
<line x1="468.80" y1="470.00" x2="468.80" y2="511.80" stroke="#333" stroke-width="0.6" stroke-dasharray="6 3"/>
<rect x="248.30" y="414.20" width="19.00" height="18.90" stroke="#111" stroke-width="0.8" fill="#fff" />
<path d="M248.30 414.20 L266.80 414.50 L254.00 418.93 L250.58 432.60 L248.30 433.10 Z" fill="#7c7c7c" stroke="#111" stroke-width="0.6"/>
<rect x="515.10" y="414.20" width="18.40" height="18.90" stroke="#111" stroke-width="0.8" fill="#fff" />
<path d="M515.10 414.20 L533.00 414.50 L520.62 418.93 L517.31 432.60 L515.10 433.10 Z" fill="#7c7c7c" stroke="#111" stroke-width="0.6"/>
<rect x="190.40" y="400.00" width="9.80" height="10.20" stroke="#111" stroke-width="0.8" fill="#fff" />
<path d="M190.40 400.00 L199.70 400.30 L193.34 402.55 L191.58 409.70 L190.40 410.20 Z" fill="#7c7c7c" stroke="#111" stroke-width="0.6"/>
<rect x="257.50" y="465.00" width="7.50" height="7.80" stroke="#111" stroke-width="0.8" fill="#fff" />
<path d="M257.50 465.00 L264.50 465.30 L259.75 466.95 L258.40 472.30 L257.50 472.80 Z" fill="#7c7c7c" stroke="#111" stroke-width="0.6"/>
<rect x="329.00" y="465.00" width="7.60" height="7.80" stroke="#111" stroke-width="0.8" fill="#fff" />
<path d="M329.00 465.00 L336.10 465.30 L331.28 466.95 L329.91 472.30 L329.00 472.80 Z" fill="#7c7c7c" stroke="#111" stroke-width="0.6"/>
<rect x="427.80" y="463.80" width="8.50" height="7.20" stroke="#111" stroke-width="0.8" fill="#fff" />
<path d="M427.80 463.80 L435.80 464.10 L430.35 465.60 L428.82 470.50 L427.80 471.00 Z" fill="#7c7c7c" stroke="#111" stroke-width="0.6"/>
<rect x="285.40" y="503.30" width="6.60" height="4.40" stroke="#111" stroke-width="0.8" fill="#fff" />
<path d="M285.40 503.30 L291.50 503.60 L287.38 504.40 L286.19 507.20 L285.40 507.70 Z" fill="#7c7c7c" stroke="#111" stroke-width="0.6"/>
<rect x="404.00" y="528.00" width="6.60" height="7.40" stroke="#111" stroke-width="0.8" fill="#fff" />
<path d="M404.00 528.00 L410.10 528.30 L405.98 529.85 L404.79 534.90 L404.00 535.40 Z" fill="#7c7c7c" stroke="#111" stroke-width="0.6"/>
<rect x="467.50" y="537.30" width="4.20" height="8.70" stroke="#111" stroke-width="0.8" fill="#fff" />
<rect x="513.00" y="382.70" width="3.70" height="6.00" stroke="#111" stroke-width="0.8" fill="#fff" />
<rect x="210.50" y="602.00" width="4.50" height="10.50" stroke="#111" stroke-width="0.8" fill="#fff" />
<rect x="344.50" y="620.00" width="4.50" height="8.50" stroke="#111" stroke-width="0.8" fill="#fff" />
<rect x="481.50" y="590.50" width="4.00" height="7.50" stroke="#111" stroke-width="0.8" fill="#fff" />
<rect x="129.00" y="448.50" width="7.00" height="4.00" stroke="#111" stroke-width="0.8" fill="#fff" />
<path d="M129.00 448.50 L135.50 448.80 L131.10 449.50 L129.84 452.00 L129.00 452.50 Z" fill="#7c7c7c" stroke="#111" stroke-width="0.6"/>
<rect x="174.2" y="397.5" width="8.3" height="5" rx="1.2" fill="#fff" stroke="#111" stroke-width="0.8"/>
<rect x="215.3" y="382.2" width="9.4" height="4.9" rx="1.5" fill="#fff" stroke="#111" stroke-width="0.8"/>
<rect x="560.5" y="345.5" width="9.5" height="4" rx="1.2" fill="#fff" stroke="#111" stroke-width="0.8"/>
<g transform="translate(592.5 410.5) rotate(30)"><rect x="-6" y="-4" width="12" height="8" fill="#fff" stroke="#111" stroke-width="0.8"/><rect x="-3" y="-2" width="7" height="4" fill="none" stroke="#111" stroke-width="0.6"/></g>
<rect x="604.50" y="405.00" width="4.50" height="8.50" stroke="#111" stroke-width="0.8" fill="#fff" />
<rect x="605.00" y="399.50" width="0.00" height="0.00" stroke="none" stroke-width="0" fill="none" />
<rect x="-3.00" y="-3.00" width="6" height="6" fill="#5a5a5a" stroke="#000" stroke-width="1.0" transform="translate(209.20 315.00) rotate(0)"/>
<text transform="translate(212.20 310.00)" font-family="Liberation Sans" font-size="3.8" text-anchor="start" font-weight="bold" fill="#000" >PILAR B3</text>
<text transform="translate(215.70 313.00)" font-family="Liberation Sans" font-size="2.8" text-anchor="start" font-weight="bold" fill="#000" >30x30</text>
<rect x="-3.00" y="-3.00" width="6" height="6" fill="#5a5a5a" stroke="#000" stroke-width="1.0" transform="translate(294.00 315.00) rotate(0)"/>
<text transform="translate(297.00 310.00)" font-family="Liberation Sans" font-size="3.8" text-anchor="start" font-weight="bold" fill="#000" >PILAR C3</text>
<text transform="translate(300.50 313.00)" font-family="Liberation Sans" font-size="2.8" text-anchor="start" font-weight="bold" fill="#000" >30x30</text>
<rect x="-3.00" y="-3.00" width="6" height="6" fill="#5a5a5a" stroke="#000" stroke-width="1.0" transform="translate(381.30 315.00) rotate(0)"/>
<text transform="translate(365.30 310.00)" font-family="Liberation Sans" font-size="3.8" text-anchor="start" font-weight="bold" fill="#000" >PILAR D3</text>
<text transform="translate(368.80 313.00)" font-family="Liberation Sans" font-size="2.8" text-anchor="start" font-weight="bold" fill="#000" >30x30</text>
<rect x="-3.00" y="-3.00" width="6" height="6" fill="#5a5a5a" stroke="#000" stroke-width="1.0" transform="translate(457.50 315.00) rotate(0)"/>
<text transform="translate(462.50 310.00)" font-family="Liberation Sans" font-size="3.8" text-anchor="start" font-weight="bold" fill="#000" >PILAR E3a</text>
<text transform="translate(466.00 313.00)" font-family="Liberation Sans" font-size="2.8" text-anchor="start" font-weight="bold" fill="#000" >30x30</text>
<rect x="-3.00" y="-3.00" width="6" height="6" fill="#5a5a5a" stroke="#000" stroke-width="1.0" transform="translate(553.00 315.00) rotate(0)"/>
<text transform="translate(556.00 310.00)" font-family="Liberation Sans" font-size="3.8" text-anchor="start" font-weight="bold" fill="#000" >PILAR F3</text>
<text transform="translate(559.50 313.00)" font-family="Liberation Sans" font-size="2.8" text-anchor="start" font-weight="bold" fill="#000" >30x30</text>
<rect x="-3.00" y="-3.00" width="6" height="6" fill="#5a5a5a" stroke="#000" stroke-width="1.0" transform="translate(294.50 388.50) rotate(0)"/>
<text transform="translate(298.50 382.50)" font-family="Liberation Sans" font-size="3.8" text-anchor="start" font-weight="bold" fill="#000" >PILAR C4</text>
<text transform="translate(302.00 385.50)" font-family="Liberation Sans" font-size="2.8" text-anchor="start" font-weight="bold" fill="#000" >30x30</text>
<rect x="-3.00" y="-3.00" width="6" height="6" fill="#5a5a5a" stroke="#000" stroke-width="1.0" transform="translate(381.30 388.50) rotate(0)"/>
<text transform="translate(366.30 382.50)" font-family="Liberation Sans" font-size="3.8" text-anchor="start" font-weight="bold" fill="#000" >PILAR D4</text>
<text transform="translate(369.80 385.50)" font-family="Liberation Sans" font-size="2.8" text-anchor="start" font-weight="bold" fill="#000" >30x30</text>
<rect x="-3.00" y="-3.00" width="6" height="6" fill="#5a5a5a" stroke="#000" stroke-width="1.0" transform="translate(571.00 388.50) rotate(0)"/>
<text transform="translate(556.00 382.50)" font-family="Liberation Sans" font-size="3.8" text-anchor="start" font-weight="bold" fill="#000" >PILAR F4</text>
<text transform="translate(559.50 385.50)" font-family="Liberation Sans" font-size="2.8" text-anchor="start" font-weight="bold" fill="#000" >30x30</text>
<rect x="-3.00" y="-3.00" width="6" height="6" fill="#5a5a5a" stroke="#000" stroke-width="1.0" transform="translate(209.50 467.00) rotate(0)"/>
<text transform="translate(212.50 460.00)" font-family="Liberation Sans" font-size="3.8" text-anchor="start" font-weight="bold" fill="#000" >PILAR B5</text>
<text transform="translate(216.00 463.00)" font-family="Liberation Sans" font-size="2.8" text-anchor="start" font-weight="bold" fill="#000" >30x30</text>
<rect x="-3.00" y="-3.00" width="6" height="6" fill="#5a5a5a" stroke="#000" stroke-width="1.0" transform="translate(294.00 467.00) rotate(0)"/>
<text transform="translate(298.00 460.00)" font-family="Liberation Sans" font-size="3.8" text-anchor="start" font-weight="bold" fill="#000" >PILAR C5</text>
<text transform="translate(301.50 463.00)" font-family="Liberation Sans" font-size="2.8" text-anchor="start" font-weight="bold" fill="#000" >30x30</text>
<rect x="-3.00" y="-3.00" width="6" height="6" fill="#5a5a5a" stroke="#000" stroke-width="1.0" transform="translate(382.00 467.00) rotate(0)"/>
<text transform="translate(366.00 462.00)" font-family="Liberation Sans" font-size="3.8" text-anchor="start" font-weight="bold" fill="#000" >PILAR D5</text>
<text transform="translate(369.50 465.00)" font-family="Liberation Sans" font-size="2.8" text-anchor="start" font-weight="bold" fill="#000" >30x30</text>
<rect x="-3.00" y="-3.00" width="6" height="6" fill="#5a5a5a" stroke="#000" stroke-width="1.0" transform="translate(468.70 467.00) rotate(0)"/>
<text transform="translate(466.70 476.00)" font-family="Liberation Sans" font-size="3.8" text-anchor="start" font-weight="bold" fill="#000" >PILAR E5</text>
<text transform="translate(470.20 479.00)" font-family="Liberation Sans" font-size="2.8" text-anchor="start" font-weight="bold" fill="#000" >30x30</text>
<rect x="-3.00" y="-3.00" width="6" height="6" fill="#5a5a5a" stroke="#000" stroke-width="1.0" transform="translate(572.00 467.00) rotate(0)"/>
<text transform="translate(557.00 460.00)" font-family="Liberation Sans" font-size="3.8" text-anchor="start" font-weight="bold" fill="#000" >PILAR F5</text>
<text transform="translate(560.50 463.00)" font-family="Liberation Sans" font-size="2.8" text-anchor="start" font-weight="bold" fill="#000" >30x30</text>
<rect x="-3.00" y="-3.00" width="6" height="6" fill="#5a5a5a" stroke="#000" stroke-width="1.0" transform="translate(209.00 582.00) rotate(0)"/>
<text transform="translate(213.00 586.00)" font-family="Liberation Sans" font-size="3.8" text-anchor="start" font-weight="bold" fill="#000" >PILAR B6</text>
<text transform="translate(216.50 589.00)" font-family="Liberation Sans" font-size="2.8" text-anchor="start" font-weight="bold" fill="#000" >30x30</text>
<rect x="-3.00" y="-3.00" width="6" height="6" fill="#5a5a5a" stroke="#000" stroke-width="1.0" transform="translate(294.00 582.00) rotate(0)"/>
<text transform="translate(298.00 588.00)" font-family="Liberation Sans" font-size="3.8" text-anchor="start" font-weight="bold" fill="#000" >PILAR C6</text>
<text transform="translate(301.50 591.00)" font-family="Liberation Sans" font-size="2.8" text-anchor="start" font-weight="bold" fill="#000" >30x30</text>
<rect x="-3.00" y="-3.00" width="6" height="6" fill="#5a5a5a" stroke="#000" stroke-width="1.0" transform="translate(381.50 582.00) rotate(0)"/>
<text transform="translate(383.50 575.00)" font-family="Liberation Sans" font-size="3.8" text-anchor="start" font-weight="bold" fill="#000" >PILAR D6</text>
<text transform="translate(387.00 578.00)" font-family="Liberation Sans" font-size="2.8" text-anchor="start" font-weight="bold" fill="#000" >30x30</text>
<rect x="-3.00" y="-3.00" width="6" height="6" fill="#5a5a5a" stroke="#000" stroke-width="1.0" transform="translate(489.00 582.60) rotate(0)"/>
<text transform="translate(494.00 588.60)" font-family="Liberation Sans" font-size="3.8" text-anchor="start" font-weight="bold" fill="#000" >PILAR E6a</text>
<text transform="translate(497.50 591.60)" font-family="Liberation Sans" font-size="2.8" text-anchor="start" font-weight="bold" fill="#000" >30x30</text>
<rect x="-3.00" y="-3.00" width="6" height="6" fill="#5a5a5a" stroke="#000" stroke-width="1.0" transform="translate(215.00 638.50) rotate(15)"/>
<text transform="translate(217.00 646.50)" font-family="Liberation Sans" font-size="3.8" text-anchor="start" font-weight="bold" fill="#000" >PILAR B7a</text>
<text transform="translate(220.50 649.50)" font-family="Liberation Sans" font-size="2.8" text-anchor="start" font-weight="bold" fill="#000" >30x30</text>
<rect x="-3.00" y="-3.00" width="6" height="6" fill="#5a5a5a" stroke="#000" stroke-width="1.0" transform="translate(342.00 667.50) rotate(5)"/>
<text transform="translate(347.00 672.50)" font-family="Liberation Sans" font-size="3.8" text-anchor="start" font-weight="bold" fill="#000" >PILAR C7a</text>
<text transform="translate(350.50 675.50)" font-family="Liberation Sans" font-size="2.8" text-anchor="start" font-weight="bold" fill="#000" >30x30</text>
<rect x="-3.00" y="-3.00" width="6" height="6" fill="#5a5a5a" stroke="#000" stroke-width="1.0" transform="translate(475.50 651.00) rotate(-20)"/>
<text transform="translate(481.50 653.00)" font-family="Liberation Sans" font-size="3.8" text-anchor="start" font-weight="bold" fill="#000" >PILAR E7a</text>
<text transform="translate(485.00 656.00)" font-family="Liberation Sans" font-size="2.8" text-anchor="start" font-weight="bold" fill="#000" >30x30</text>
<rect x="-3.00" y="-3.00" width="6" height="6" fill="#5a5a5a" stroke="#000" stroke-width="1.0" transform="translate(572.00 596.60) rotate(-40)"/>
<text transform="translate(577.00 593.60)" font-family="Liberation Sans" font-size="3.8" text-anchor="start" font-weight="bold" fill="#000" >PILAR G6a</text>
<text transform="translate(580.50 596.60)" font-family="Liberation Sans" font-size="2.8" text-anchor="start" font-weight="bold" fill="#000" >30x30</text>
<rect x="-3.00" y="-3.00" width="6" height="6" fill="#5a5a5a" stroke="#000" stroke-width="1.0" transform="translate(636.40 524.70) rotate(33)"/>
<text transform="translate(639.40 518.70)" font-family="Liberation Sans" font-size="3.8" text-anchor="start" font-weight="bold" fill="#000" >PILAR H5b</text>
<text transform="translate(642.90 521.70)" font-family="Liberation Sans" font-size="2.8" text-anchor="start" font-weight="bold" fill="#000" >30x30</text>
<rect x="-3.00" y="-3.00" width="6" height="6" fill="#5a5a5a" stroke="#000" stroke-width="1.0" transform="translate(686.00 446.00) rotate(33)"/>
<text transform="translate(690.00 440.00)" font-family="Liberation Sans" font-size="3.8" text-anchor="start" font-weight="bold" fill="#000" >PILAR H5a</text>
<text transform="translate(693.50 443.00)" font-family="Liberation Sans" font-size="2.8" text-anchor="start" font-weight="bold" fill="#000" >30x30</text>
<rect x="-3.00" y="-3.00" width="6" height="6" fill="#5a5a5a" stroke="#000" stroke-width="1.0" transform="translate(662.00 296.00) rotate(-22.5)"/>
<text transform="translate(657.00 288.00)" font-family="Liberation Sans" font-size="3.8" text-anchor="start" font-weight="bold" fill="#000" >PILAR H3A</text>
<text transform="translate(660.50 291.00)" font-family="Liberation Sans" font-size="2.8" text-anchor="start" font-weight="bold" fill="#000" >30x30</text>
<rect x="-3.00" y="-3.00" width="6" height="6" fill="#5a5a5a" stroke="#000" stroke-width="1.0" transform="translate(685.00 352.00) rotate(-22.5)"/>
<text transform="translate(682.00 344.00)" font-family="Liberation Sans" font-size="3.8" text-anchor="start" font-weight="bold" fill="#000" >PILAR H4</text>
<text transform="translate(685.50 347.00)" font-family="Liberation Sans" font-size="2.8" text-anchor="start" font-weight="bold" fill="#000" >30x30</text>
<rect x="196.50" y="275.50" width="13.00" height="3.50" stroke="#000" stroke-width="0.7" fill="#777" />
<rect x="230.00" y="275.50" width="32.00" height="3.50" stroke="#000" stroke-width="0.7" fill="#777" />
<rect x="284.00" y="275.50" width="12.00" height="3.50" stroke="#000" stroke-width="0.7" fill="#777" />
<rect x="317.50" y="275.50" width="13.50" height="3.50" stroke="#000" stroke-width="0.7" fill="#777" />
<rect x="382.50" y="275.50" width="12.50" height="3.50" stroke="#000" stroke-width="0.7" fill="#777" />
<rect x="449.00" y="275.50" width="13.00" height="3.50" stroke="#000" stroke-width="0.7" fill="#777" />
<rect x="483.00" y="275.50" width="17.00" height="3.50" stroke="#000" stroke-width="0.7" fill="#777" />
<rect x="520.00" y="275.50" width="13.00" height="3.50" stroke="#000" stroke-width="0.7" fill="#777" />
<rect x="548.40" y="207.00" width="8.20" height="3.50" stroke="#000" stroke-width="0.7" fill="#777" />
<text transform="translate(558.00 215.50)" font-family="Liberation Sans" font-size="3.8" text-anchor="start" font-weight="bold" fill="#000" >PILAR F2</text>
<text transform="translate(561.50 218.50)" font-family="Liberation Sans" font-size="2.8" text-anchor="start" font-weight="bold" fill="#000" >30x30</text>
<rect x="618.00" y="207.50" width="8.00" height="3.50" stroke="#000" stroke-width="0.7" fill="#777" />
<text transform="translate(610.00 215.50)" font-family="Liberation Sans" font-size="3.8" text-anchor="middle" font-weight="bold" fill="#000" >PILAR G2</text>
<text transform="translate(610.00 218.50)" font-family="Liberation Sans" font-size="2.8" text-anchor="middle" font-weight="bold" fill="#000" >30x30</text>
<text transform="translate(215.50 503.50)" font-family="Liberation Sans" font-size="3.8" text-anchor="start" font-weight="bold" fill="#000" >PILAR B5a</text>
<text transform="translate(219.00 506.50)" font-family="Liberation Sans" font-size="2.8" text-anchor="start" font-weight="bold" fill="#000" >30x30</text>
<rect x="205.00" y="499.60" width="8.00" height="2.80" stroke="#000" stroke-width="0.6" fill="#666" />
<circle cx="134.00" cy="300.00" r="8.80" stroke="#111" stroke-width="0.9" fill="#fff"/>
<text transform="translate(134.00 304.20) scale(0.8 1)" font-family="Liberation Sans" font-size="12" text-anchor="middle" font-weight="normal" fill="#333" >24</text>
<rect x="143.30" y="296.00" width="36.00" height="8.00" stroke="#333" stroke-width="0.7" fill="#fff" />
<text x="150.60" y="302.60" font-family="Liberation Sans" font-size="7.6" fill="#222" stroke="#222" stroke-width="0.12" textLength="21.5" lengthAdjust="spacingAndGlyphs">pendent</text>
<circle cx="324.00" cy="335.00" r="8.80" stroke="#111" stroke-width="0.9" fill="#fff"/>
<text transform="translate(324.00 339.20) scale(0.8 1)" font-family="Liberation Sans" font-size="12" text-anchor="middle" font-weight="normal" fill="#333" >24</text>
<rect x="333.30" y="331.00" width="36.00" height="8.00" stroke="#333" stroke-width="0.7" fill="#fff" />
<text x="340.60" y="337.60" font-family="Liberation Sans" font-size="7.6" fill="#222" stroke="#222" stroke-width="0.12" textLength="21.5" lengthAdjust="spacingAndGlyphs">pendent</text>
<circle cx="563.00" cy="233.70" r="8.80" stroke="#111" stroke-width="0.9" fill="#fff"/>
<text transform="translate(563.00 237.90) scale(0.8 1)" font-family="Liberation Sans" font-size="12" text-anchor="middle" font-weight="normal" fill="#333" >24</text>
<rect x="572.30" y="229.70" width="36.00" height="8.00" stroke="#333" stroke-width="0.7" fill="#fff" />
<text x="579.60" y="236.30" font-family="Liberation Sans" font-size="7.6" fill="#222" stroke="#222" stroke-width="0.12" textLength="21.5" lengthAdjust="spacingAndGlyphs">pendent</text>
<circle cx="626.00" cy="345.50" r="8.80" stroke="#111" stroke-width="0.9" fill="#fff"/>
<text transform="translate(626.00 349.70) scale(0.8 1)" font-family="Liberation Sans" font-size="12" text-anchor="middle" font-weight="normal" fill="#333" >24</text>
<rect x="635.30" y="341.50" width="36.00" height="8.00" stroke="#333" stroke-width="0.7" fill="#fff" />
<text x="642.60" y="348.10" font-family="Liberation Sans" font-size="7.6" fill="#222" stroke="#222" stroke-width="0.12" textLength="21.5" lengthAdjust="spacingAndGlyphs">pendent</text>
<circle cx="124.00" cy="404.50" r="8.80" stroke="#111" stroke-width="0.9" fill="#fff"/>
<text transform="translate(124.00 408.70) scale(0.8 1)" font-family="Liberation Sans" font-size="12" text-anchor="middle" font-weight="normal" fill="#333" >24</text>
<rect x="133.30" y="400.50" width="36.00" height="8.00" stroke="#333" stroke-width="0.7" fill="#fff" />
<text x="140.60" y="407.10" font-family="Liberation Sans" font-size="7.6" fill="#222" stroke="#222" stroke-width="0.12" textLength="21.5" lengthAdjust="spacingAndGlyphs">pendent</text>
<circle cx="323.75" cy="400.00" r="8.80" stroke="#111" stroke-width="0.9" fill="#fff"/>
<text transform="translate(323.75 404.20) scale(0.8 1)" font-family="Liberation Sans" font-size="12" text-anchor="middle" font-weight="normal" fill="#333" >24</text>
<rect x="333.05" y="396.00" width="36.00" height="8.00" stroke="#333" stroke-width="0.7" fill="#fff" />
<text x="340.35" y="402.60" font-family="Liberation Sans" font-size="7.6" fill="#222" stroke="#222" stroke-width="0.12" textLength="21.5" lengthAdjust="spacingAndGlyphs">pendent</text>
<circle cx="317.50" cy="475.75" r="8.80" stroke="#111" stroke-width="0.9" fill="#fff"/>
<text transform="translate(317.50 479.95) scale(0.8 1)" font-family="Liberation Sans" font-size="12" text-anchor="middle" font-weight="normal" fill="#333" >24</text>
<circle cx="277.00" cy="536.00" r="8.80" stroke="#111" stroke-width="0.9" fill="#fff"/>
<text transform="translate(277.00 540.20) scale(0.8 1)" font-family="Liberation Sans" font-size="12" text-anchor="middle" font-weight="normal" fill="#333" >24</text>
<rect x="286.30" y="532.00" width="36.00" height="8.00" stroke="#333" stroke-width="0.7" fill="#fff" />
<text x="293.60" y="538.60" font-family="Liberation Sans" font-size="7.6" fill="#222" stroke="#222" stroke-width="0.12" textLength="21.5" lengthAdjust="spacingAndGlyphs">pendent</text>
<circle cx="408.00" cy="631.00" r="8.80" stroke="#111" stroke-width="0.9" fill="#fff"/>
<text transform="translate(408.00 635.20) scale(0.8 1)" font-family="Liberation Sans" font-size="12" text-anchor="middle" font-weight="normal" fill="#333" >24</text>
<rect x="417.30" y="627.00" width="36.00" height="8.00" stroke="#333" stroke-width="0.7" fill="#fff" />
<text x="424.60" y="633.60" font-family="Liberation Sans" font-size="7.6" fill="#222" stroke="#222" stroke-width="0.12" textLength="21.5" lengthAdjust="spacingAndGlyphs">pendent</text>
<text x="578.5" y="348" font-family="Liberation Sans" font-size="7.6" fill="#333" textLength="14" lengthAdjust="spacingAndGlyphs">plana</text>
<rect x="246.30" y="153.10" width="175.30" height="15.40" stroke="none" stroke-width="0" fill="#fff" />
<text x="248.9" y="166.2" font-family="Liberation Sans" font-size="12.8" fill="#444" textLength="169.5" lengthAdjust="spacingAndGlyphs" word-spacing="3">COBERTA SOSTRE PLANTA PRIMERA</text>
<line x1="294.00" y1="153.10" x2="294.00" y2="168.50" stroke="#888" stroke-width="0.9" />
<line x1="381.00" y1="158.00" x2="381.00" y2="168.50" stroke="#888" stroke-width="0.9" />
<line x1="651.00" y1="717.60" x2="797.00" y2="717.60" stroke="#888" stroke-width="0.8" />
<line x1="651.00" y1="716.50" x2="651.00" y2="731.40" stroke="#111" stroke-width="1.0" />
<line x1="650.50" y1="731.00" x2="800.00" y2="731.00" stroke="#222" stroke-width="1.0" />
<line x1="726.40" y1="717.60" x2="726.40" y2="731.00" stroke="#333" stroke-width="0.8" />
<line x1="726.40" y1="724.40" x2="800.00" y2="724.40" stroke="#444" stroke-width="0.8" />
<path d="M795.00 714.50 L798.00 716.00 L799.50 713.00" stroke="#444" stroke-width="0.8" fill="none" />
<text x="655" y="725.6" font-family="Liberation Sans" font-size="6.4" fill="#333" textLength="22" lengthAdjust="spacingAndGlyphs">ARMADURA</text>
<text x="730.4" y="723" font-family="Liberation Sans" font-size="5.8" fill="#333" textLength="47.6" lengthAdjust="spacingAndGlyphs">ferro corrugat en barra</text>
<text x="730.4" y="730" font-family="Liberation Sans" font-size="5.8" fill="#333" textLength="80.1" lengthAdjust="spacingAndGlyphs">ferro corrugat en malla electrosoldada</text>
<line x1="112.63" y1="394.69" x2="97.50" y2="408.00" stroke="#000" stroke-width="0.8" />
<path d="M99.30 406.42 L101.83 402.99 L103.02 404.35 Z" stroke="#000" stroke-width="0.4" fill="#000" />
<text transform="translate(109.71 395.92) rotate(-41)" font-family="Liberation Sans" font-size="3.6" text-anchor="middle" font-weight="bold" fill="#000" >ø12</text>
<circle cx="100.50" cy="410.75" r="1.30" stroke="none" stroke-width="0" fill="#000"/>
<circle cx="106.75" cy="412.00" r="1.30" stroke="none" stroke-width="0" fill="#000"/>
<circle cx="108.75" cy="405.75" r="1.30" stroke="none" stroke-width="0" fill="#000"/>
<line x1="113.47" y1="418.74" x2="97.50" y2="416.50" stroke="#000" stroke-width="0.8" />
<path d="M98.68 416.66 L102.92 416.35 L102.67 418.13 Z" stroke="#000" stroke-width="0.4" fill="#000" />
<text transform="translate(110.63 417.33) rotate(8)" font-family="Liberation Sans" font-size="3.6" text-anchor="middle" font-weight="bold" fill="#000" >ø12</text>
<line x1="106.57" y1="445.06" x2="122.50" y2="448.25" stroke="#000" stroke-width="0.8" />
<text transform="translate(109.71 444.67) rotate(11)" font-family="Liberation Sans" font-size="3.6" text-anchor="middle" font-weight="bold" fill="#000" >ø12</text>
<circle cx="116.25" cy="447.00" r="1.30" stroke="none" stroke-width="0" fill="#000"/>
<circle cx="122.50" cy="449.00" r="1.30" stroke="none" stroke-width="0" fill="#000"/>
<circle cx="95.00" cy="494.00" r="1.30" stroke="none" stroke-width="0" fill="#000"/>
<circle cx="102.00" cy="498.25" r="1.30" stroke="none" stroke-width="0" fill="#000"/>
<circle cx="100.50" cy="504.00" r="1.30" stroke="none" stroke-width="0" fill="#000"/>
<circle cx="106.75" cy="506.25" r="1.30" stroke="none" stroke-width="0" fill="#000"/>
<line x1="123.13" y1="492.93" x2="100.00" y2="504.50" stroke="#000" stroke-width="0.8" />
<text transform="translate(120.00 493.38) rotate(-27)" font-family="Liberation Sans" font-size="3.6" text-anchor="middle" font-weight="bold" fill="#000" >ø12</text>
<line x1="113.34" y1="514.28" x2="96.25" y2="509.00" stroke="#000" stroke-width="0.8" />
<path d="M97.89 509.51 L102.13 509.88 L101.60 511.60 Z" stroke="#000" stroke-width="0.4" fill="#000" />
<text transform="translate(110.77 512.44) rotate(17)" font-family="Liberation Sans" font-size="3.6" text-anchor="middle" font-weight="bold" fill="#000" >ø12</text>
<line x1="197.74" y1="378.08" x2="207.00" y2="389.00" stroke="#000" stroke-width="0.8" />
<path d="M206.58 388.51 L203.20 385.92 L204.58 384.75 Z" stroke="#000" stroke-width="0.4" fill="#000" />
<text transform="translate(200.44 379.72) rotate(50)" font-family="Liberation Sans" font-size="3.6" text-anchor="middle" font-weight="bold" fill="#000" >ø12</text>
<circle cx="209.50" cy="383.75" r="1.30" stroke="none" stroke-width="0" fill="#000"/>
<line x1="284.44" y1="371.59" x2="272.50" y2="389.50" stroke="#000" stroke-width="0.8" />
<path d="M274.06 387.16 L275.62 383.20 L277.11 384.20 Z" stroke="#000" stroke-width="0.4" fill="#000" />
<text transform="translate(281.95 373.53) rotate(-56)" font-family="Liberation Sans" font-size="3.6" text-anchor="middle" font-weight="bold" fill="#000" >ø12</text>
<circle cx="282.50" cy="385.75" r="1.30" stroke="none" stroke-width="0" fill="#000"/>
<circle cx="371.75" cy="420.25" r="1.20" stroke="none" stroke-width="0" fill="#000"/>
<circle cx="371.75" cy="427.00" r="1.20" stroke="none" stroke-width="0" fill="#000"/>
<circle cx="371.75" cy="433.25" r="1.20" stroke="none" stroke-width="0" fill="#000"/>
<circle cx="377.60" cy="420.25" r="1.20" stroke="none" stroke-width="0" fill="#000"/>
<circle cx="377.60" cy="427.00" r="1.20" stroke="none" stroke-width="0" fill="#000"/>
<circle cx="377.60" cy="433.25" r="1.20" stroke="none" stroke-width="0" fill="#000"/>
<circle cx="383.75" cy="420.25" r="1.20" stroke="none" stroke-width="0" fill="#000"/>
<circle cx="383.75" cy="427.00" r="1.20" stroke="none" stroke-width="0" fill="#000"/>
<circle cx="383.75" cy="433.25" r="1.20" stroke="none" stroke-width="0" fill="#000"/>
<circle cx="377.60" cy="439.50" r="1.20" stroke="none" stroke-width="0" fill="#000"/>
<circle cx="383.75" cy="439.50" r="1.20" stroke="none" stroke-width="0" fill="#000"/>
<line x1="361.45" y1="409.37" x2="372.50" y2="422.00" stroke="#000" stroke-width="0.8" />
<path d="M371.59 420.96 L368.17 418.42 L369.53 417.23 Z" stroke="#000" stroke-width="0.4" fill="#000" />
<text transform="translate(364.17 410.97) rotate(49)" font-family="Liberation Sans" font-size="3.6" text-anchor="middle" font-weight="bold" fill="#000" >ø12</text>
<line x1="400.12" y1="415.92" x2="386.25" y2="428.25" stroke="#000" stroke-width="0.8" />
<path d="M387.68 426.98 L390.19 423.54 L391.39 424.89 Z" stroke="#000" stroke-width="0.4" fill="#000" />
<text transform="translate(397.21 417.17) rotate(-42)" font-family="Liberation Sans" font-size="3.6" text-anchor="middle" font-weight="bold" fill="#000" >ø12</text>
<line x1="263.92" y1="489.38" x2="276.25" y2="503.25" stroke="#000" stroke-width="0.8" />
<path d="M274.98 501.82 L271.54 499.31 L272.89 498.11 Z" stroke="#000" stroke-width="0.4" fill="#000" />
<text transform="translate(266.67 490.96) rotate(48)" font-family="Liberation Sans" font-size="3.6" text-anchor="middle" font-weight="bold" fill="#000" >ø12</text>
<circle cx="279.50" cy="502.00" r="1.30" stroke="none" stroke-width="0" fill="#000"/>
<circle cx="326.25" cy="539.50" r="1.30" stroke="none" stroke-width="0" fill="#000"/>
<circle cx="331.25" cy="543.25" r="1.30" stroke="none" stroke-width="0" fill="#000"/>
<circle cx="324.25" cy="547.00" r="1.30" stroke="none" stroke-width="0" fill="#000"/>
<circle cx="330.00" cy="549.50" r="1.30" stroke="none" stroke-width="0" fill="#000"/>
<line x1="344.31" y1="540.30" x2="330.00" y2="548.25" stroke="#000" stroke-width="0.8" />
<text transform="translate(341.20 540.88) rotate(-29)" font-family="Liberation Sans" font-size="3.6" text-anchor="middle" font-weight="bold" fill="#000" >ø12</text>
<line x1="356.88" y1="545.43" x2="343.75" y2="552.00" stroke="#000" stroke-width="0.8" />
<path d="M344.42 551.66 L347.74 549.00 L348.55 550.61 Z" stroke="#000" stroke-width="0.4" fill="#000" />
<text transform="translate(353.75 545.88) rotate(-27)" font-family="Liberation Sans" font-size="3.6" text-anchor="middle" font-weight="bold" fill="#000" >ø12</text>
<circle cx="547.50" cy="475.75" r="1.30" stroke="none" stroke-width="0" fill="#000"/>
<line x1="565.93" y1="473.94" x2="550.00" y2="470.75" stroke="#000" stroke-width="0.8" />
<path d="M551.20 470.99 L555.46 470.92 L555.10 472.69 Z" stroke="#000" stroke-width="0.4" fill="#000" />
<text transform="translate(563.19 472.37) rotate(11)" font-family="Liberation Sans" font-size="3.6" text-anchor="middle" font-weight="bold" fill="#000" >ø12</text>
<line x1="416.82" y1="537.31" x2="403.75" y2="544.50" stroke="#000" stroke-width="0.8" />
<path d="M404.47 544.10 L407.68 541.31 L408.55 542.89 Z" stroke="#000" stroke-width="0.4" fill="#000" />
<text transform="translate(413.71 537.88) rotate(-29)" font-family="Liberation Sans" font-size="3.6" text-anchor="middle" font-weight="bold" fill="#000" >ø12</text>
<line x1="505.43" y1="368.93" x2="496.25" y2="385.75" stroke="#000" stroke-width="0.8" />
<path d="M497.25 383.91 L498.46 379.82 L500.04 380.69 Z" stroke="#000" stroke-width="0.4" fill="#000" />
<text transform="translate(503.11 371.08) rotate(-61)" font-family="Liberation Sans" font-size="3.6" text-anchor="middle" font-weight="bold" fill="#000" >ø12</text>
<circle cx="623.00" cy="410.00" r="1.30" stroke="none" stroke-width="0" fill="#000"/>
<circle cx="619.50" cy="415.75" r="1.30" stroke="none" stroke-width="0" fill="#000"/>
<circle cx="625.00" cy="419.00" r="1.30" stroke="none" stroke-width="0" fill="#000"/>
<line x1="636.97" y1="409.37" x2="625.00" y2="414.50" stroke="#000" stroke-width="0.8" />
<text transform="translate(633.82 409.63) rotate(-23)" font-family="Liberation Sans" font-size="3.6" text-anchor="middle" font-weight="bold" fill="#000" >ø12</text>
<line x1="611.63" y1="469.21" x2="632.50" y2="463.25" stroke="#000" stroke-width="0.8" />
<path d="M629.75 464.04 L626.00 466.04 L625.50 464.31 Z" stroke="#000" stroke-width="0.4" fill="#000" />
<text transform="translate(614.24 467.43) rotate(-16)" font-family="Liberation Sans" font-size="3.6" text-anchor="middle" font-weight="bold" fill="#000" >ø12</text>
<circle cx="222.50" cy="606.75" r="1.30" stroke="none" stroke-width="0" fill="#000"/>
<line x1="237.73" y1="598.81" x2="223.75" y2="610.00" stroke="#000" stroke-width="0.8" />
<path d="M225.09 608.92 L227.78 605.62 L228.91 607.03 Z" stroke="#000" stroke-width="0.4" fill="#000" />
<text transform="translate(234.77 599.91) rotate(-39)" font-family="Liberation Sans" font-size="3.6" text-anchor="middle" font-weight="bold" fill="#000" >ø12</text>
<circle cx="343.00" cy="615.50" r="1.30" stroke="none" stroke-width="0" fill="#000"/>
<line x1="358.98" y1="607.06" x2="343.75" y2="619.25" stroke="#000" stroke-width="0.8" />
<path d="M345.47 617.87 L348.16 614.57 L349.28 615.98 Z" stroke="#000" stroke-width="0.4" fill="#000" />
<text transform="translate(356.02 608.16) rotate(-39)" font-family="Liberation Sans" font-size="3.6" text-anchor="middle" font-weight="bold" fill="#000" >ø12</text>
<circle cx="509.50" cy="566.75" r="1.30" stroke="none" stroke-width="0" fill="#000"/>
<circle cx="515.00" cy="561.75" r="1.30" stroke="none" stroke-width="0" fill="#000"/>
<circle cx="511.00" cy="572.50" r="1.30" stroke="none" stroke-width="0" fill="#000"/>
<line x1="507.95" y1="556.19" x2="500.00" y2="570.50" stroke="#000" stroke-width="0.8" />
<path d="M500.61 569.40 L501.85 565.32 L503.42 566.20 Z" stroke="#000" stroke-width="0.4" fill="#000" />
<text transform="translate(505.62 558.33) rotate(-61)" font-family="Liberation Sans" font-size="3.6" text-anchor="middle" font-weight="bold" fill="#000" >ø12</text>
<line x1="539.48" y1="331.74" x2="557.50" y2="342.25" stroke="#000" stroke-width="0.8" />
<path d="M555.25 340.94 L551.20 339.62 L552.11 338.06 Z" stroke="#000" stroke-width="0.4" fill="#000" />
<text transform="translate(542.57 332.38) rotate(30)" font-family="Liberation Sans" font-size="3.6" text-anchor="middle" font-weight="bold" fill="#000" >ø12</text>
<circle cx="560.00" cy="340.50" r="1.30" stroke="none" stroke-width="0" fill="#000"/>
<line x1="421.47" y1="556.53" x2="412.00" y2="566.00" stroke="#000" stroke-width="0.8" />
<path d="M412.26 565.74 L414.57 562.16 L415.84 563.43 Z" stroke="#000" stroke-width="0.4" fill="#000" />
<text transform="translate(418.65 557.94) rotate(-45)" font-family="Liberation Sans" font-size="3.6" text-anchor="middle" font-weight="bold" fill="#000" >ø12</text>
<circle cx="416.00" cy="570.00" r="1.30" stroke="none" stroke-width="0" fill="#000"/>
<line x1="415.50" y1="576.00" x2="400.00" y2="576.00" stroke="#000" stroke-width="0.8" />
<path d="M401.00 576.00 L405.16 575.10 L405.16 576.90 Z" stroke="#000" stroke-width="0.4" fill="#000" />
<text transform="translate(412.50 575.00)" font-family="Liberation Sans" font-size="3.6" text-anchor="middle" font-weight="bold" fill="#000" >ø12</text>
<circle cx="788.00" cy="0.00" r="0.00" stroke="none" stroke-width="0" fill="#000"/>
<line x1="185.50" y1="192.00" x2="185.50" y2="263.50" stroke="#222" stroke-width="0.75" />
<line x1="183.30" y1="192.00" x2="187.70" y2="192.00" stroke="#000" stroke-width="0.7" />
<line x1="183.30" y1="263.50" x2="187.70" y2="263.50" stroke="#000" stroke-width="0.7" />
<text transform="translate(184.30 222.00) rotate(-90)" font-family="Liberation Sans" font-size="3.4" text-anchor="middle" font-weight="bold" fill="#000" >435</text>
<line x1="185.50" y1="278.50" x2="185.50" y2="315.00" stroke="#222" stroke-width="0.75" />
<line x1="183.30" y1="278.50" x2="187.70" y2="278.50" stroke="#000" stroke-width="0.7" />
<line x1="183.30" y1="315.00" x2="187.70" y2="315.00" stroke="#000" stroke-width="0.7" />
<text transform="translate(184.30 298.00) rotate(-90)" font-family="Liberation Sans" font-size="3.4" text-anchor="middle" font-weight="bold" fill="#000" >187</text>
<line x1="209.00" y1="266.00" x2="521.00" y2="266.00" stroke="#222" stroke-width="0.5" />
<line x1="505.50" y1="193.50" x2="505.50" y2="278.50" stroke="#000" stroke-width="1.1" stroke-dasharray="3.5 2"/>
<text transform="translate(503.50 215.00) rotate(-90)" font-family="Liberation Sans" font-size="3.4" text-anchor="middle" font-weight="bold" fill="#000" >60</text>
<text transform="translate(503.50 245.00) rotate(-90)" font-family="Liberation Sans" font-size="3.4" text-anchor="middle" font-weight="bold" fill="#000" >270</text>
<text transform="translate(145.00 230.50)" font-family="Liberation Sans" font-size="3.4" text-anchor="middle" font-weight="bold" fill="#000" >530</text>
<text transform="translate(302.00 230.50)" font-family="Liberation Sans" font-size="3.4" text-anchor="middle" font-weight="bold" fill="#000" >47</text>
<text transform="translate(364.00 230.50)" font-family="Liberation Sans" font-size="3.4" text-anchor="middle" font-weight="bold" fill="#000" >1200</text>
<line x1="195.00" y1="287.50" x2="209.00" y2="287.50" stroke="#222" stroke-width="0.75" />
<line x1="195.00" y1="285.30" x2="195.00" y2="289.70" stroke="#000" stroke-width="0.7" />
<line x1="209.00" y1="285.30" x2="209.00" y2="289.70" stroke="#000" stroke-width="0.7" />
<text transform="translate(202.00 286.50)" font-family="Liberation Sans" font-size="3.4" text-anchor="middle" font-weight="bold" fill="#000" >71</text>
<line x1="241.00" y1="279.00" x2="241.00" y2="287.00" stroke="#222" stroke-width="0.5" />
<line x1="262.00" y1="279.00" x2="262.00" y2="287.00" stroke="#222" stroke-width="0.5" />
<line x1="505.00" y1="279.00" x2="505.00" y2="287.00" stroke="#222" stroke-width="0.5" />
<line x1="513.00" y1="279.00" x2="513.00" y2="287.00" stroke="#222" stroke-width="0.5" />
<line x1="463.00" y1="279.00" x2="463.00" y2="287.00" stroke="#222" stroke-width="0.5" />
<text transform="translate(239.50 290.00) rotate(-90)" font-family="Liberation Sans" font-size="3.2" text-anchor="middle" font-weight="bold" fill="#000" >13</text>
<text transform="translate(260.50 290.00) rotate(-90)" font-family="Liberation Sans" font-size="3.2" text-anchor="middle" font-weight="bold" fill="#000" >2</text>
<text transform="translate(454.00 290.00) rotate(-90)" font-family="Liberation Sans" font-size="3.2" text-anchor="middle" font-weight="bold" fill="#000" >13</text>
<text transform="translate(461.50 290.00) rotate(-90)" font-family="Liberation Sans" font-size="3.2" text-anchor="middle" font-weight="bold" fill="#000" >2</text>
<text transform="translate(516.50 290.00) rotate(-90)" font-family="Liberation Sans" font-size="3.2" text-anchor="middle" font-weight="bold" fill="#000" >2</text>
<line x1="185.00" y1="364.50" x2="209.00" y2="364.50" stroke="#222" stroke-width="0.75" />
<line x1="185.00" y1="362.30" x2="185.00" y2="366.70" stroke="#000" stroke-width="0.7" />
<line x1="209.00" y1="362.30" x2="209.00" y2="366.70" stroke="#000" stroke-width="0.7" />
<text transform="translate(197.00 363.50)" font-family="Liberation Sans" font-size="3.4" text-anchor="middle" font-weight="bold" fill="#000" >121</text>
<line x1="175.50" y1="357.50" x2="175.50" y2="386.00" stroke="#222" stroke-width="0.75" />
<line x1="173.30" y1="357.50" x2="177.70" y2="357.50" stroke="#000" stroke-width="0.7" />
<line x1="173.30" y1="386.00" x2="177.70" y2="386.00" stroke="#000" stroke-width="0.7" />
<text transform="translate(174.30 372.00) rotate(-90)" font-family="Liberation Sans" font-size="3.4" text-anchor="middle" font-weight="bold" fill="#000" >150</text>
<line x1="521.00" y1="188.50" x2="662.00" y2="188.50" stroke="#222" stroke-width="0.75" />
<line x1="521.00" y1="186.30" x2="521.00" y2="190.70" stroke="#000" stroke-width="0.7" />
<line x1="533.00" y1="186.30" x2="533.00" y2="190.70" stroke="#000" stroke-width="0.7" />
<line x1="553.00" y1="186.30" x2="553.00" y2="190.70" stroke="#000" stroke-width="0.7" />
<line x1="572.00" y1="186.30" x2="572.00" y2="190.70" stroke="#000" stroke-width="0.7" />
<line x1="637.00" y1="186.30" x2="637.00" y2="190.70" stroke="#000" stroke-width="0.7" />
<line x1="662.00" y1="186.30" x2="662.00" y2="190.70" stroke="#000" stroke-width="0.7" />
<text transform="translate(527.00 187.50)" font-family="Liberation Sans" font-size="3.4" text-anchor="middle" font-weight="bold" fill="#000" >58</text>
<text transform="translate(543.00 187.50)" font-family="Liberation Sans" font-size="3.4" text-anchor="middle" font-weight="bold" fill="#000" >100</text>
<text transform="translate(562.50 187.50)" font-family="Liberation Sans" font-size="3.4" text-anchor="middle" font-weight="bold" fill="#000" >102</text>
<text transform="translate(604.00 187.50)" font-family="Liberation Sans" font-size="3.4" text-anchor="middle" font-weight="bold" fill="#000" >354</text>
<text transform="translate(650.00 187.50)" font-family="Liberation Sans" font-size="3.4" text-anchor="middle" font-weight="bold" fill="#000" >135</text>
<line x1="651.50" y1="188.00" x2="651.50" y2="202.50" stroke="#222" stroke-width="0.75" />
<line x1="649.30" y1="188.00" x2="653.70" y2="188.00" stroke="#000" stroke-width="0.7" />
<line x1="649.30" y1="202.50" x2="653.70" y2="202.50" stroke="#000" stroke-width="0.7" />
<text transform="translate(650.30 195.00) rotate(-90)" font-family="Liberation Sans" font-size="3.4" text-anchor="middle" font-weight="bold" fill="#000" >24</text>
<line x1="637.00" y1="188.00" x2="637.00" y2="202.50" stroke="#222" stroke-width="0.5" />
<line x1="642.50" y1="255.00" x2="656.00" y2="250.00" stroke="#111" stroke-width="0.6" />
<text transform="translate(650.00 250.50) rotate(-20)" font-family="Liberation Sans" font-size="3.4" text-anchor="middle" font-weight="bold" fill="#000" >63</text>
<line x1="701.25" y1="397.00" x2="714.50" y2="391.50" stroke="#111" stroke-width="0.6" />
<text transform="translate(708.00 392.00) rotate(-22)" font-family="Liberation Sans" font-size="3.4" text-anchor="middle" font-weight="bold" fill="#000" >63</text>
<line x1="695.50" y1="425.00" x2="709.50" y2="433.00" stroke="#111" stroke-width="0.6" />
<text transform="translate(704.00 427.00) rotate(30)" font-family="Liberation Sans" font-size="3.4" text-anchor="middle" font-weight="bold" fill="#000" >63</text>
<line x1="742.50" y1="386.00" x2="742.50" y2="469.00" stroke="#222" stroke-width="0.75" />
<line x1="740.30" y1="386.00" x2="744.70" y2="386.00" stroke="#000" stroke-width="0.7" />
<line x1="740.30" y1="410.75" x2="744.70" y2="410.75" stroke="#000" stroke-width="0.7" />
<line x1="740.30" y1="469.00" x2="744.70" y2="469.00" stroke="#000" stroke-width="0.7" />
<text transform="translate(741.30 398.00) rotate(-90)" font-family="Liberation Sans" font-size="3.4" text-anchor="middle" font-weight="bold" fill="#000" >130</text>
<text transform="translate(741.30 440.00) rotate(-90)" font-family="Liberation Sans" font-size="3.4" text-anchor="middle" font-weight="bold" fill="#000" >319</text>
<line x1="723.75" y1="410.75" x2="748.00" y2="410.75" stroke="#222" stroke-width="0.5" />
<text transform="translate(729.00 405.50) rotate(-40)" font-family="Liberation Sans" font-size="3.2" text-anchor="middle" font-weight="bold" fill="#000" >137°</text>
<text transform="translate(727.00 417.50) rotate(-40)" font-family="Liberation Sans" font-size="3.2" text-anchor="middle" font-weight="bold" fill="#000" >137°</text>
<text transform="translate(737.00 409.50) rotate(-20)" font-family="Liberation Sans" font-size="3.2" text-anchor="middle" font-weight="bold" fill="#000" >157</text>
<line x1="610.00" y1="399.50" x2="662.00" y2="399.50" stroke="#222" stroke-width="0.75" />
<line x1="610.00" y1="397.30" x2="610.00" y2="401.70" stroke="#000" stroke-width="0.7" />
<line x1="662.00" y1="397.30" x2="662.00" y2="401.70" stroke="#000" stroke-width="0.7" />
<text transform="translate(636.00 398.50)" font-family="Liberation Sans" font-size="3.4" text-anchor="middle" font-weight="bold" fill="#000" >260</text>
<line x1="584.00" y1="418.50" x2="606.00" y2="418.50" stroke="#222" stroke-width="0.75" />
<line x1="584.00" y1="416.30" x2="584.00" y2="420.70" stroke="#000" stroke-width="0.7" />
<line x1="597.00" y1="416.30" x2="597.00" y2="420.70" stroke="#000" stroke-width="0.7" />
<line x1="606.00" y1="416.30" x2="606.00" y2="420.70" stroke="#000" stroke-width="0.7" />
<text transform="translate(590.00 417.50)" font-family="Liberation Sans" font-size="3.4" text-anchor="middle" font-weight="bold" fill="#000" >75</text>
<line x1="584.00" y1="424.50" x2="606.00" y2="424.50" stroke="#222" stroke-width="0.75" />
<line x1="584.00" y1="422.30" x2="584.00" y2="426.70" stroke="#000" stroke-width="0.7" />
<line x1="606.00" y1="422.30" x2="606.00" y2="426.70" stroke="#000" stroke-width="0.7" />
<text transform="translate(594.00 423.50)" font-family="Liberation Sans" font-size="3.4" text-anchor="middle" font-weight="bold" fill="#000" >156</text>
<line x1="603.50" y1="386.00" x2="603.50" y2="412.00" stroke="#222" stroke-width="0.75" />
<line x1="601.30" y1="386.00" x2="605.70" y2="386.00" stroke="#000" stroke-width="0.7" />
<line x1="601.30" y1="412.00" x2="605.70" y2="412.00" stroke="#000" stroke-width="0.7" />
<text transform="translate(602.30 396.00) rotate(-90)" font-family="Liberation Sans" font-size="3.4" text-anchor="middle" font-weight="bold" fill="#000" >95</text>
<line x1="589.50" y1="424.00" x2="589.50" y2="469.00" stroke="#222" stroke-width="0.75" />
<line x1="587.30" y1="424.00" x2="591.70" y2="424.00" stroke="#000" stroke-width="0.7" />
<text transform="translate(588.30 446.00) rotate(-90)" font-family="Liberation Sans" font-size="3.4" text-anchor="middle" font-weight="bold" fill="#000" >227</text>
<line x1="238.00" y1="439.50" x2="294.00" y2="439.50" stroke="#222" stroke-width="0.75" />
<line x1="238.00" y1="437.30" x2="238.00" y2="441.70" stroke="#000" stroke-width="0.7" />
<line x1="243.70" y1="437.30" x2="243.70" y2="441.70" stroke="#000" stroke-width="0.7" />
<line x1="248.30" y1="437.30" x2="248.30" y2="441.70" stroke="#000" stroke-width="0.7" />
<line x1="267.30" y1="437.30" x2="267.30" y2="441.70" stroke="#000" stroke-width="0.7" />
<line x1="294.00" y1="437.30" x2="294.00" y2="441.70" stroke="#000" stroke-width="0.7" />
<text transform="translate(246.00 438.50)" font-family="Liberation Sans" font-size="3.4" text-anchor="middle" font-weight="bold" fill="#000" >20</text>
<text transform="translate(258.00 438.50)" font-family="Liberation Sans" font-size="3.4" text-anchor="middle" font-weight="bold" fill="#000" >100</text>
<text transform="translate(281.00 438.50)" font-family="Liberation Sans" font-size="3.4" text-anchor="middle" font-weight="bold" fill="#000" >148</text>
<line x1="256.50" y1="386.30" x2="256.50" y2="433.00" stroke="#222" stroke-width="0.75" />
<line x1="254.30" y1="386.30" x2="258.70" y2="386.30" stroke="#000" stroke-width="0.7" />
<line x1="254.30" y1="414.20" x2="258.70" y2="414.20" stroke="#000" stroke-width="0.7" />
<line x1="254.30" y1="433.00" x2="258.70" y2="433.00" stroke="#000" stroke-width="0.7" />
<text transform="translate(255.30 400.00) rotate(-90)" font-family="Liberation Sans" font-size="3.4" text-anchor="middle" font-weight="bold" fill="#000" >136</text>
<text transform="translate(255.30 424.00) rotate(-90)" font-family="Liberation Sans" font-size="3.4" text-anchor="middle" font-weight="bold" fill="#000" >95</text>
<line x1="190.40" y1="414.50" x2="207.00" y2="414.50" stroke="#222" stroke-width="0.75" />
<line x1="190.40" y1="412.30" x2="190.40" y2="416.70" stroke="#000" stroke-width="0.7" />
<line x1="200.20" y1="412.30" x2="200.20" y2="416.70" stroke="#000" stroke-width="0.7" />
<line x1="207.00" y1="412.30" x2="207.00" y2="416.70" stroke="#000" stroke-width="0.7" />
<text transform="translate(195.50 413.50)" font-family="Liberation Sans" font-size="3.4" text-anchor="middle" font-weight="bold" fill="#000" >55</text>
<text transform="translate(203.50 413.50)" font-family="Liberation Sans" font-size="3.4" text-anchor="middle" font-weight="bold" fill="#000" >33</text>
<line x1="190.40" y1="396.50" x2="200.20" y2="396.50" stroke="#222" stroke-width="0.75" />
<line x1="190.40" y1="394.30" x2="190.40" y2="398.70" stroke="#000" stroke-width="0.7" />
<line x1="200.20" y1="394.30" x2="200.20" y2="398.70" stroke="#000" stroke-width="0.7" />
<text transform="translate(196.00 395.50)" font-family="Liberation Sans" font-size="3.4" text-anchor="middle" font-weight="bold" fill="#000" >45</text>
<line x1="173.30" y1="395.50" x2="181.50" y2="395.50" stroke="#222" stroke-width="0.75" />
<line x1="173.30" y1="393.30" x2="173.30" y2="397.70" stroke="#000" stroke-width="0.7" />
<line x1="181.50" y1="393.30" x2="181.50" y2="397.70" stroke="#000" stroke-width="0.7" />
<text transform="translate(177.50 394.50)" font-family="Liberation Sans" font-size="3.4" text-anchor="middle" font-weight="bold" fill="#000" >52</text>
<line x1="171.50" y1="390.00" x2="171.50" y2="409.00" stroke="#222" stroke-width="0.75" />
<line x1="169.30" y1="390.00" x2="173.70" y2="390.00" stroke="#000" stroke-width="0.7" />
<line x1="169.30" y1="398.50" x2="173.70" y2="398.50" stroke="#000" stroke-width="0.7" />
<line x1="169.30" y1="402.50" x2="173.70" y2="402.50" stroke="#000" stroke-width="0.7" />
<line x1="169.30" y1="409.00" x2="173.70" y2="409.00" stroke="#000" stroke-width="0.7" />
<text transform="translate(170.30 394.50) rotate(-90)" font-family="Liberation Sans" font-size="3.4" text-anchor="middle" font-weight="bold" fill="#000" >35</text>
<text transform="translate(170.30 406.00) rotate(-90)" font-family="Liberation Sans" font-size="3.4" text-anchor="middle" font-weight="bold" fill="#000" >35</text>
<line x1="186.50" y1="386.00" x2="186.50" y2="402.00" stroke="#222" stroke-width="0.75" />
<line x1="184.30" y1="386.00" x2="188.70" y2="386.00" stroke="#000" stroke-width="0.7" />
<line x1="184.30" y1="402.00" x2="188.70" y2="402.00" stroke="#000" stroke-width="0.7" />
<text transform="translate(185.30 394.00) rotate(-90)" font-family="Liberation Sans" font-size="3.4" text-anchor="middle" font-weight="bold" fill="#000" >80</text>
<text transform="translate(223.00 391.00)" font-family="Liberation Sans" font-size="3.2" text-anchor="middle" font-weight="bold" fill="#000" >PA1 e=25cm</text>
<line x1="215.30" y1="379.50" x2="224.70" y2="379.50" stroke="#222" stroke-width="0.75" />
<line x1="215.30" y1="377.30" x2="215.30" y2="381.70" stroke="#000" stroke-width="0.7" />
<line x1="224.70" y1="377.30" x2="224.70" y2="381.70" stroke="#000" stroke-width="0.7" />
<text transform="translate(220.00 378.50)" font-family="Liberation Sans" font-size="3.4" text-anchor="middle" font-weight="bold" fill="#000" >52</text>
<line x1="211.50" y1="374.00" x2="211.50" y2="387.00" stroke="#222" stroke-width="0.75" />
<line x1="209.30" y1="374.00" x2="213.70" y2="374.00" stroke="#000" stroke-width="0.7" />
<line x1="209.30" y1="387.00" x2="213.70" y2="387.00" stroke="#000" stroke-width="0.7" />
<text transform="translate(210.30 380.00) rotate(-90)" font-family="Liberation Sans" font-size="3.4" text-anchor="middle" font-weight="bold" fill="#000" >35</text>
<line x1="439.50" y1="377.50" x2="510.20" y2="377.50" stroke="#222" stroke-width="0.75" />
<line x1="439.50" y1="375.30" x2="439.50" y2="379.70" stroke="#000" stroke-width="0.7" />
<line x1="468.80" y1="375.30" x2="468.80" y2="379.70" stroke="#000" stroke-width="0.7" />
<line x1="473.70" y1="375.30" x2="473.70" y2="379.70" stroke="#000" stroke-width="0.7" />
<line x1="510.20" y1="375.30" x2="510.20" y2="379.70" stroke="#000" stroke-width="0.7" />
<text transform="translate(454.00 376.50)" font-family="Liberation Sans" font-size="3.4" text-anchor="middle" font-weight="bold" fill="#000" >135</text>
<text transform="translate(474.00 376.50)" font-family="Liberation Sans" font-size="3.4" text-anchor="middle" font-weight="bold" fill="#000" >25</text>
<text transform="translate(491.00 376.50)" font-family="Liberation Sans" font-size="3.4" text-anchor="middle" font-weight="bold" fill="#000" >200</text>
<line x1="439.50" y1="377.80" x2="439.50" y2="392.00" stroke="#222" stroke-width="0.5" />
<line x1="468.80" y1="372.00" x2="468.80" y2="392.00" stroke="#222" stroke-width="0.5" />
<line x1="473.70" y1="377.80" x2="473.70" y2="392.00" stroke="#222" stroke-width="0.5" />
<line x1="510.20" y1="377.80" x2="510.20" y2="392.00" stroke="#222" stroke-width="0.5" />
<line x1="446.50" y1="380.00" x2="446.50" y2="392.00" stroke="#222" stroke-width="0.75" />
<line x1="444.30" y1="380.00" x2="448.70" y2="380.00" stroke="#000" stroke-width="0.7" />
<line x1="444.30" y1="392.00" x2="448.70" y2="392.00" stroke="#000" stroke-width="0.7" />
<text transform="translate(445.30 387.00) rotate(-90)" font-family="Liberation Sans" font-size="3.4" text-anchor="middle" font-weight="bold" fill="#000" >60</text>
<text transform="translate(495.00 389.50)" font-family="Liberation Sans" font-size="3.2" text-anchor="middle" font-weight="bold" fill="#000" >PA2 e=20cm</text>
<line x1="506.00" y1="381.50" x2="521.00" y2="381.50" stroke="#222" stroke-width="0.75" />
<line x1="506.00" y1="379.30" x2="506.00" y2="383.70" stroke="#000" stroke-width="0.7" />
<line x1="511.00" y1="379.30" x2="511.00" y2="383.70" stroke="#000" stroke-width="0.7" />
<line x1="516.70" y1="379.30" x2="516.70" y2="383.70" stroke="#000" stroke-width="0.7" />
<line x1="521.00" y1="379.30" x2="521.00" y2="383.70" stroke="#000" stroke-width="0.7" />
<text transform="translate(509.00 380.50)" font-family="Liberation Sans" font-size="3.4" text-anchor="middle" font-weight="bold" fill="#000" >26</text>
<text transform="translate(519.50 380.50)" font-family="Liberation Sans" font-size="3.4" text-anchor="middle" font-weight="bold" fill="#000" >26</text>
<line x1="523.50" y1="380.00" x2="523.50" y2="433.00" stroke="#222" stroke-width="0.75" />
<line x1="521.30" y1="380.00" x2="525.70" y2="380.00" stroke="#000" stroke-width="0.7" />
<line x1="521.30" y1="388.70" x2="525.70" y2="388.70" stroke="#000" stroke-width="0.7" />
<line x1="521.30" y1="414.20" x2="525.70" y2="414.20" stroke="#000" stroke-width="0.7" />
<line x1="521.30" y1="433.00" x2="525.70" y2="433.00" stroke="#000" stroke-width="0.7" />
<text transform="translate(522.30 401.00) rotate(-90)" font-family="Liberation Sans" font-size="3.4" text-anchor="middle" font-weight="bold" fill="#000" >126</text>
<text transform="translate(522.30 424.00) rotate(-90)" font-family="Liberation Sans" font-size="3.4" text-anchor="middle" font-weight="bold" fill="#000" >95</text>
<line x1="519.50" y1="382.70" x2="519.50" y2="396.00" stroke="#222" stroke-width="0.75" />
<line x1="517.30" y1="382.70" x2="521.70" y2="382.70" stroke="#000" stroke-width="0.7" />
<line x1="517.30" y1="396.00" x2="521.70" y2="396.00" stroke="#000" stroke-width="0.7" />
<text transform="translate(518.30 392.00) rotate(-90)" font-family="Liberation Sans" font-size="3.4" text-anchor="middle" font-weight="bold" fill="#000" >60</text>
<line x1="257.50" y1="457.50" x2="294.00" y2="457.50" stroke="#222" stroke-width="0.75" />
<line x1="257.50" y1="455.30" x2="257.50" y2="459.70" stroke="#000" stroke-width="0.7" />
<line x1="265.00" y1="455.30" x2="265.00" y2="459.70" stroke="#000" stroke-width="0.7" />
<line x1="294.00" y1="455.30" x2="294.00" y2="459.70" stroke="#000" stroke-width="0.7" />
<text transform="translate(261.00 456.50)" font-family="Liberation Sans" font-size="3.4" text-anchor="middle" font-weight="bold" fill="#000" >40</text>
<text transform="translate(280.00 456.50)" font-family="Liberation Sans" font-size="3.4" text-anchor="middle" font-weight="bold" fill="#000" >155</text>
<line x1="294.00" y1="457.50" x2="336.60" y2="457.50" stroke="#222" stroke-width="0.75" />
<line x1="294.00" y1="455.30" x2="294.00" y2="459.70" stroke="#000" stroke-width="0.7" />
<line x1="329.00" y1="455.30" x2="329.00" y2="459.70" stroke="#000" stroke-width="0.7" />
<line x1="336.60" y1="455.30" x2="336.60" y2="459.70" stroke="#000" stroke-width="0.7" />
<text transform="translate(311.00 456.50)" font-family="Liberation Sans" font-size="3.4" text-anchor="middle" font-weight="bold" fill="#000" >180</text>
<text transform="translate(333.00 456.50)" font-family="Liberation Sans" font-size="3.4" text-anchor="middle" font-weight="bold" fill="#000" >40</text>
<line x1="269.50" y1="461.00" x2="269.50" y2="481.00" stroke="#222" stroke-width="0.75" />
<line x1="267.30" y1="461.00" x2="271.70" y2="461.00" stroke="#000" stroke-width="0.7" />
<line x1="267.30" y1="465.00" x2="271.70" y2="465.00" stroke="#000" stroke-width="0.7" />
<line x1="267.30" y1="472.80" x2="271.70" y2="472.80" stroke="#000" stroke-width="0.7" />
<line x1="267.30" y1="481.00" x2="271.70" y2="481.00" stroke="#000" stroke-width="0.7" />
<text transform="translate(268.30 463.00) rotate(-90)" font-family="Liberation Sans" font-size="3.4" text-anchor="middle" font-weight="bold" fill="#000" >22</text>
<text transform="translate(268.30 477.00) rotate(-90)" font-family="Liberation Sans" font-size="3.4" text-anchor="middle" font-weight="bold" fill="#000" >40</text>
<line x1="340.50" y1="461.00" x2="340.50" y2="481.00" stroke="#222" stroke-width="0.75" />
<line x1="338.30" y1="461.00" x2="342.70" y2="461.00" stroke="#000" stroke-width="0.7" />
<line x1="338.30" y1="465.00" x2="342.70" y2="465.00" stroke="#000" stroke-width="0.7" />
<line x1="338.30" y1="472.80" x2="342.70" y2="472.80" stroke="#000" stroke-width="0.7" />
<line x1="338.30" y1="481.00" x2="342.70" y2="481.00" stroke="#000" stroke-width="0.7" />
<text transform="translate(339.30 463.00) rotate(-90)" font-family="Liberation Sans" font-size="3.4" text-anchor="middle" font-weight="bold" fill="#000" >22</text>
<text transform="translate(339.30 477.00) rotate(-90)" font-family="Liberation Sans" font-size="3.4" text-anchor="middle" font-weight="bold" fill="#000" >40</text>
<line x1="240.50" y1="458.00" x2="240.50" y2="466.30" stroke="#222" stroke-width="0.75" />
<line x1="238.30" y1="458.00" x2="242.70" y2="458.00" stroke="#000" stroke-width="0.7" />
<line x1="238.30" y1="466.30" x2="242.70" y2="466.30" stroke="#000" stroke-width="0.7" />
<text transform="translate(239.30 462.00) rotate(-90)" font-family="Liberation Sans" font-size="3.4" text-anchor="middle" font-weight="bold" fill="#000" >40</text>
<line x1="352.50" y1="448.00" x2="352.50" y2="466.30" stroke="#222" stroke-width="0.75" />
<line x1="350.30" y1="448.00" x2="354.70" y2="448.00" stroke="#000" stroke-width="0.7" />
<line x1="350.30" y1="466.30" x2="354.70" y2="466.30" stroke="#000" stroke-width="0.7" />
<text transform="translate(351.30 457.00) rotate(-90)" font-family="Liberation Sans" font-size="3.4" text-anchor="middle" font-weight="bold" fill="#000" >97</text>
<line x1="352.50" y1="440.50" x2="352.50" y2="448.00" stroke="#222" stroke-width="0.75" />
<line x1="350.30" y1="440.50" x2="354.70" y2="440.50" stroke="#000" stroke-width="0.7" />
<text transform="translate(351.30 444.00) rotate(-90)" font-family="Liberation Sans" font-size="3.4" text-anchor="middle" font-weight="bold" fill="#000" >30</text>
<line x1="267.50" y1="478.00" x2="267.50" y2="486.00" stroke="#222" stroke-width="0.75" />
<line x1="265.30" y1="478.00" x2="269.70" y2="478.00" stroke="#000" stroke-width="0.7" />
<line x1="265.30" y1="486.00" x2="269.70" y2="486.00" stroke="#000" stroke-width="0.7" />
<line x1="427.80" y1="456.50" x2="468.80" y2="456.50" stroke="#222" stroke-width="0.75" />
<line x1="427.80" y1="454.30" x2="427.80" y2="458.70" stroke="#000" stroke-width="0.7" />
<line x1="436.30" y1="454.30" x2="436.30" y2="458.70" stroke="#000" stroke-width="0.7" />
<line x1="468.80" y1="454.30" x2="468.80" y2="458.70" stroke="#000" stroke-width="0.7" />
<text transform="translate(432.00 455.50)" font-family="Liberation Sans" font-size="3.4" text-anchor="middle" font-weight="bold" fill="#000" >45</text>
<text transform="translate(452.00 455.50)" font-family="Liberation Sans" font-size="3.4" text-anchor="middle" font-weight="bold" fill="#000" >178</text>
<line x1="424.50" y1="452.00" x2="424.50" y2="475.00" stroke="#222" stroke-width="0.75" />
<line x1="422.30" y1="456.50" x2="426.70" y2="456.50" stroke="#000" stroke-width="0.7" />
<line x1="422.30" y1="463.80" x2="426.70" y2="463.80" stroke="#000" stroke-width="0.7" />
<line x1="422.30" y1="471.00" x2="426.70" y2="471.00" stroke="#000" stroke-width="0.7" />
<text transform="translate(423.30 460.00) rotate(-90)" font-family="Liberation Sans" font-size="3.4" text-anchor="middle" font-weight="bold" fill="#000" >22</text>
<text transform="translate(423.30 467.50) rotate(-90)" font-family="Liberation Sans" font-size="3.4" text-anchor="middle" font-weight="bold" fill="#000" >35</text>
<line x1="438.50" y1="463.80" x2="438.50" y2="471.00" stroke="#222" stroke-width="0.75" />
<line x1="436.30" y1="463.80" x2="440.70" y2="463.80" stroke="#000" stroke-width="0.7" />
<line x1="436.30" y1="471.00" x2="440.70" y2="471.00" stroke="#000" stroke-width="0.7" />
<text transform="translate(437.30 467.50) rotate(-90)" font-family="Liberation Sans" font-size="3.4" text-anchor="middle" font-weight="bold" fill="#000" >35</text>
<path d="M384.50 466.30 L389.00 466.30 L391.00 461.50 L393.00 461.50 L393.00 456.50 L401.00 456.50 L401.00 466.30 L408.00 466.30" stroke="#111" stroke-width="0.8" fill="none" />
<path d="M384.50 466.30 L389.00 466.30 L390.00 463.50 L384.50 463.50 Z" stroke="#111" stroke-width="0.5" fill="#555" />
<line x1="386.00" y1="472.50" x2="402.00" y2="472.50" stroke="#222" stroke-width="0.75" />
<line x1="386.00" y1="470.30" x2="386.00" y2="474.70" stroke="#000" stroke-width="0.7" />
<line x1="393.00" y1="470.30" x2="393.00" y2="474.70" stroke="#000" stroke-width="0.7" />
<line x1="402.00" y1="470.30" x2="402.00" y2="474.70" stroke="#000" stroke-width="0.7" />
<text transform="translate(397.50 471.50)" font-family="Liberation Sans" font-size="3.4" text-anchor="middle" font-weight="bold" fill="#000" >45</text>
<line x1="386.00" y1="452.50" x2="401.00" y2="452.50" stroke="#222" stroke-width="0.75" />
<line x1="386.00" y1="450.30" x2="386.00" y2="454.70" stroke="#000" stroke-width="0.7" />
<line x1="393.00" y1="450.30" x2="393.00" y2="454.70" stroke="#000" stroke-width="0.7" />
<line x1="401.00" y1="450.30" x2="401.00" y2="454.70" stroke="#000" stroke-width="0.7" />
<text transform="translate(389.50 451.50)" font-family="Liberation Sans" font-size="3.4" text-anchor="middle" font-weight="bold" fill="#000" >44</text>
<text transform="translate(397.00 451.50)" font-family="Liberation Sans" font-size="3.4" text-anchor="middle" font-weight="bold" fill="#000" >52</text>
<line x1="404.50" y1="456.50" x2="404.50" y2="478.00" stroke="#222" stroke-width="0.75" />
<line x1="402.30" y1="456.50" x2="406.70" y2="456.50" stroke="#000" stroke-width="0.7" />
<line x1="402.30" y1="466.30" x2="406.70" y2="466.30" stroke="#000" stroke-width="0.7" />
<line x1="402.30" y1="478.00" x2="406.70" y2="478.00" stroke="#000" stroke-width="0.7" />
<text transform="translate(403.30 461.00) rotate(-90)" font-family="Liberation Sans" font-size="3.4" text-anchor="middle" font-weight="bold" fill="#000" >40</text>
<text transform="translate(403.30 472.00) rotate(-90)" font-family="Liberation Sans" font-size="3.4" text-anchor="middle" font-weight="bold" fill="#000" >40</text>
<line x1="410.50" y1="463.00" x2="410.50" y2="478.00" stroke="#222" stroke-width="0.75" />
<line x1="408.30" y1="463.00" x2="412.70" y2="463.00" stroke="#000" stroke-width="0.7" />
<line x1="408.30" y1="470.00" x2="412.70" y2="470.00" stroke="#000" stroke-width="0.7" />
<line x1="408.30" y1="478.00" x2="412.70" y2="478.00" stroke="#000" stroke-width="0.7" />
<text transform="translate(409.30 466.50) rotate(-90)" font-family="Liberation Sans" font-size="3.4" text-anchor="middle" font-weight="bold" fill="#000" >22</text>
<text transform="translate(409.30 474.00) rotate(-90)" font-family="Liberation Sans" font-size="3.4" text-anchor="middle" font-weight="bold" fill="#000" >35</text>
<line x1="362.50" y1="466.30" x2="362.50" y2="476.00" stroke="#222" stroke-width="0.75" />
<line x1="360.30" y1="466.30" x2="364.70" y2="466.30" stroke="#000" stroke-width="0.7" />
<line x1="360.30" y1="476.00" x2="364.70" y2="476.00" stroke="#000" stroke-width="0.7" />
<text transform="translate(361.30 471.00) rotate(-90)" font-family="Liberation Sans" font-size="3.4" text-anchor="middle" font-weight="bold" fill="#000" >17</text>
<text transform="translate(373.50 473.50)" font-family="Liberation Sans" font-size="3.4" text-anchor="middle" font-weight="bold" fill="#000" >17</text>
<line x1="283.50" y1="470.00" x2="283.50" y2="518.00" stroke="#222" stroke-width="0.75" />
<line x1="281.30" y1="470.00" x2="285.70" y2="470.00" stroke="#000" stroke-width="0.7" />
<line x1="281.30" y1="478.00" x2="285.70" y2="478.00" stroke="#000" stroke-width="0.7" />
<line x1="281.30" y1="495.00" x2="285.70" y2="495.00" stroke="#000" stroke-width="0.7" />
<line x1="281.30" y1="503.30" x2="285.70" y2="503.30" stroke="#000" stroke-width="0.7" />
<line x1="281.30" y1="507.70" x2="285.70" y2="507.70" stroke="#000" stroke-width="0.7" />
<line x1="281.30" y1="518.00" x2="285.70" y2="518.00" stroke="#000" stroke-width="0.7" />
<text transform="translate(282.30 487.00) rotate(-90)" font-family="Liberation Sans" font-size="3.4" text-anchor="middle" font-weight="bold" fill="#000" >92</text>
<text transform="translate(282.30 513.00) rotate(-90)" font-family="Liberation Sans" font-size="3.4" text-anchor="middle" font-weight="bold" fill="#000" >35</text>
<line x1="283.80" y1="511.50" x2="298.00" y2="511.50" stroke="#222" stroke-width="0.75" />
<line x1="283.80" y1="509.30" x2="283.80" y2="513.70" stroke="#000" stroke-width="0.7" />
<line x1="285.40" y1="509.30" x2="285.40" y2="513.70" stroke="#000" stroke-width="0.7" />
<line x1="292.00" y1="509.30" x2="292.00" y2="513.70" stroke="#000" stroke-width="0.7" />
<line x1="298.00" y1="509.30" x2="298.00" y2="513.70" stroke="#000" stroke-width="0.7" />
<text transform="translate(288.50 510.50)" font-family="Liberation Sans" font-size="3.4" text-anchor="middle" font-weight="bold" fill="#000" >52</text>
<text transform="translate(296.00 510.50)" font-family="Liberation Sans" font-size="3.4" text-anchor="middle" font-weight="bold" fill="#000" >30</text>
<line x1="299.50" y1="507.00" x2="299.50" y2="515.00" stroke="#222" stroke-width="0.75" />
<line x1="297.30" y1="507.00" x2="301.70" y2="507.00" stroke="#000" stroke-width="0.7" />
<line x1="297.30" y1="515.00" x2="301.70" y2="515.00" stroke="#000" stroke-width="0.7" />
<line x1="381.50" y1="525.50" x2="416.00" y2="525.50" stroke="#222" stroke-width="0.75" />
<line x1="381.50" y1="523.30" x2="381.50" y2="527.70" stroke="#000" stroke-width="0.7" />
<line x1="404.00" y1="523.30" x2="404.00" y2="527.70" stroke="#000" stroke-width="0.7" />
<line x1="410.60" y1="523.30" x2="410.60" y2="527.70" stroke="#000" stroke-width="0.7" />
<line x1="416.00" y1="523.30" x2="416.00" y2="527.70" stroke="#000" stroke-width="0.7" />
<text transform="translate(393.00 524.50)" font-family="Liberation Sans" font-size="3.4" text-anchor="middle" font-weight="bold" fill="#000" >127</text>
<text transform="translate(413.50 524.50)" font-family="Liberation Sans" font-size="3.4" text-anchor="middle" font-weight="bold" fill="#000" >30</text>
<line x1="401.50" y1="522.00" x2="401.50" y2="538.00" stroke="#222" stroke-width="0.75" />
<line x1="399.30" y1="522.00" x2="403.70" y2="522.00" stroke="#000" stroke-width="0.7" />
<line x1="399.30" y1="528.00" x2="403.70" y2="528.00" stroke="#000" stroke-width="0.7" />
<line x1="399.30" y1="535.40" x2="403.70" y2="535.40" stroke="#000" stroke-width="0.7" />
<text transform="translate(400.30 531.50) rotate(-90)" font-family="Liberation Sans" font-size="3.4" text-anchor="middle" font-weight="bold" fill="#000" >35</text>
<line x1="381.50" y1="502.00" x2="381.50" y2="525.00" stroke="#222" stroke-width="0.75" />
<line x1="379.30" y1="502.00" x2="383.70" y2="502.00" stroke="#000" stroke-width="0.7" />
<line x1="379.30" y1="525.00" x2="383.70" y2="525.00" stroke="#000" stroke-width="0.7" />
<line x1="501.50" y1="466.30" x2="501.50" y2="475.00" stroke="#222" stroke-width="0.75" />
<line x1="499.30" y1="466.30" x2="503.70" y2="466.30" stroke="#000" stroke-width="0.7" />
<line x1="499.30" y1="475.00" x2="503.70" y2="475.00" stroke="#000" stroke-width="0.7" />
<text transform="translate(500.30 471.00) rotate(-90)" font-family="Liberation Sans" font-size="3.4" text-anchor="middle" font-weight="bold" fill="#000" >17</text>
<line x1="476.50" y1="531.00" x2="476.50" y2="552.00" stroke="#222" stroke-width="0.75" />
<line x1="474.30" y1="537.30" x2="478.70" y2="537.30" stroke="#000" stroke-width="0.7" />
<line x1="474.30" y1="546.00" x2="478.70" y2="546.00" stroke="#000" stroke-width="0.7" />
<text transform="translate(475.30 541.50) rotate(-90)" font-family="Liberation Sans" font-size="3.4" text-anchor="middle" font-weight="bold" fill="#000" >40</text>
<line x1="462.00" y1="533.50" x2="476.00" y2="533.50" stroke="#222" stroke-width="0.75" />
<line x1="467.50" y1="531.30" x2="467.50" y2="535.70" stroke="#000" stroke-width="0.7" />
<line x1="471.70" y1="531.30" x2="471.70" y2="535.70" stroke="#000" stroke-width="0.7" />
<text transform="translate(472.00 532.50)" font-family="Liberation Sans" font-size="3.4" text-anchor="middle" font-weight="bold" fill="#000" >5</text>
<line x1="462.00" y1="551.50" x2="476.00" y2="551.50" stroke="#222" stroke-width="0.75" />
<line x1="467.50" y1="549.30" x2="467.50" y2="553.70" stroke="#000" stroke-width="0.7" />
<line x1="471.70" y1="549.30" x2="471.70" y2="553.70" stroke="#000" stroke-width="0.7" />
<text transform="translate(465.00 550.50)" font-family="Liberation Sans" font-size="3.4" text-anchor="middle" font-weight="bold" fill="#000" >26</text>
<line x1="465.50" y1="533.00" x2="465.50" y2="551.00" stroke="#222" stroke-width="0.75" />
<line x1="463.30" y1="537.30" x2="467.70" y2="537.30" stroke="#000" stroke-width="0.7" />
<line x1="463.30" y1="546.00" x2="467.70" y2="546.00" stroke="#000" stroke-width="0.7" />
<line x1="463.30" y1="551.00" x2="467.70" y2="551.00" stroke="#000" stroke-width="0.7" />
<text transform="translate(464.30 541.50) rotate(-90)" font-family="Liberation Sans" font-size="3.4" text-anchor="middle" font-weight="bold" fill="#000" >60</text>
<line x1="521.50" y1="535.40" x2="521.50" y2="580.00" stroke="#222" stroke-width="0.75" />
<line x1="519.30" y1="535.40" x2="523.70" y2="535.40" stroke="#000" stroke-width="0.7" />
<line x1="519.30" y1="580.00" x2="523.70" y2="580.00" stroke="#000" stroke-width="0.7" />
<text transform="translate(520.30 560.00) rotate(-90)" font-family="Liberation Sans" font-size="3.4" text-anchor="middle" font-weight="bold" fill="#000" >242</text>
<line x1="508.60" y1="535.40" x2="521.60" y2="535.40" stroke="#222" stroke-width="0.5" />
<line x1="465.50" y1="556.00" x2="465.50" y2="580.00" stroke="#222" stroke-width="0.75" />
<line x1="463.30" y1="580.00" x2="467.70" y2="580.00" stroke="#000" stroke-width="0.7" />
<text transform="translate(464.30 565.00) rotate(-90)" font-family="Liberation Sans" font-size="3.4" text-anchor="middle" font-weight="bold" fill="#000" >160</text>
<line x1="490.50" y1="556.00" x2="490.50" y2="580.00" stroke="#222" stroke-width="0.75" />
<line x1="488.30" y1="580.00" x2="492.70" y2="580.00" stroke="#000" stroke-width="0.7" />
<text transform="translate(489.30 568.00) rotate(-90)" font-family="Liberation Sans" font-size="3.4" text-anchor="middle" font-weight="bold" fill="#000" >147</text>
<line x1="430.00" y1="485.50" x2="435.00" y2="497.50" stroke="#000" stroke-width="0.7" />
<text transform="translate(433.50 492.00) rotate(65)" font-family="Liberation Sans" font-size="3.2" text-anchor="middle" font-weight="bold" fill="#000" >25</text>
<line x1="331.70" y1="489.00" x2="326.80" y2="503.60" stroke="#000" stroke-width="0.8" />
<text transform="translate(326.50 496.50) rotate(-72)" font-family="Liberation Sans" font-size="3.2" text-anchor="middle" font-weight="bold" fill="#000" >40</text>
<line x1="151.00" y1="425.00" x2="148.50" y2="449.50" stroke="#000" stroke-width="0.7" />
<text transform="translate(153.50 434.00) rotate(-75)" font-family="Liberation Sans" font-size="3.2" text-anchor="middle" font-weight="bold" fill="#000" >60</text>
<text transform="translate(153.00 447.00) rotate(-75)" font-family="Liberation Sans" font-size="3.2" text-anchor="middle" font-weight="bold" fill="#000" >40</text>
<text transform="translate(161.50 442.00) rotate(-70)" font-family="Liberation Sans" font-size="3.4" text-anchor="middle" font-weight="bold" fill="#000" >R32</text>
<line x1="120.50" y1="613.00" x2="117.50" y2="625.50" stroke="#000" stroke-width="0.7" />
<text transform="translate(116.00 619.00) rotate(-75)" font-family="Liberation Sans" font-size="3.2" text-anchor="middle" font-weight="bold" fill="#000" >63</text>
<line x1="423.00" y1="663.30" x2="425.60" y2="678.00" stroke="#000" stroke-width="0.8" />
<text transform="translate(427.50 671.00) rotate(80)" font-family="Liberation Sans" font-size="3.2" text-anchor="middle" font-weight="bold" fill="#000" >25</text>
<text transform="translate(90.00 626.50)" font-family="Liberation Sans" font-size="3.2" text-anchor="middle" font-weight="bold" fill="#000" >162°</text>
<line x1="84.00" y1="459.50" x2="136.00" y2="459.50" stroke="#222" stroke-width="0.75" />
<line x1="84.00" y1="457.30" x2="84.00" y2="461.70" stroke="#000" stroke-width="0.7" />
<line x1="93.50" y1="457.30" x2="93.50" y2="461.70" stroke="#000" stroke-width="0.7" />
<line x1="129.00" y1="457.30" x2="129.00" y2="461.70" stroke="#000" stroke-width="0.7" />
<line x1="136.00" y1="457.30" x2="136.00" y2="461.70" stroke="#000" stroke-width="0.7" />
<text transform="translate(100.00 458.50)" font-family="Liberation Sans" font-size="3.4" text-anchor="middle" font-weight="bold" fill="#000" >15</text>
<text transform="translate(109.00 458.50)" font-family="Liberation Sans" font-size="3.4" text-anchor="middle" font-weight="bold" fill="#000" >208</text>
<text transform="translate(132.50 458.50)" font-family="Liberation Sans" font-size="3.4" text-anchor="middle" font-weight="bold" fill="#000" >32</text>
<line x1="143.50" y1="447.00" x2="143.50" y2="469.00" stroke="#222" stroke-width="0.75" />
<line x1="141.30" y1="447.00" x2="145.70" y2="447.00" stroke="#000" stroke-width="0.7" />
<line x1="141.30" y1="452.50" x2="145.70" y2="452.50" stroke="#000" stroke-width="0.7" />
<line x1="141.30" y1="469.00" x2="145.70" y2="469.00" stroke="#000" stroke-width="0.7" />
<text transform="translate(142.30 450.00) rotate(-90)" font-family="Liberation Sans" font-size="3.4" text-anchor="middle" font-weight="bold" fill="#000" >32</text>
<text transform="translate(142.30 461.00) rotate(-90)" font-family="Liberation Sans" font-size="3.4" text-anchor="middle" font-weight="bold" fill="#000" >35</text>
<line x1="143.00" y1="469.00" x2="150.00" y2="469.00" stroke="#222" stroke-width="0.5" />
<line x1="75.00" y1="420.00" x2="90.00" y2="420.00" stroke="#222" stroke-width="0.5" />
<line x1="75.00" y1="425.75" x2="90.00" y2="425.75" stroke="#222" stroke-width="0.5" />
<line x1="75.00" y1="430.00" x2="90.00" y2="430.00" stroke="#222" stroke-width="0.5" />
<line x1="79.00" y1="436.00" x2="90.00" y2="436.00" stroke="#222" stroke-width="0.5" />
<text transform="translate(77.00 424.00) rotate(-90)" font-family="Liberation Sans" font-size="3" text-anchor="middle" font-weight="bold" fill="#000" >70</text>
<text transform="translate(77.00 431.00) rotate(-90)" font-family="Liberation Sans" font-size="3" text-anchor="middle" font-weight="bold" fill="#000" >20</text>
<text transform="translate(80.50 434.00) rotate(-90)" font-family="Liberation Sans" font-size="3" text-anchor="middle" font-weight="bold" fill="#000" >30</text>
<line x1="203.50" y1="582.00" x2="203.50" y2="613.00" stroke="#222" stroke-width="0.75" />
<line x1="201.30" y1="582.00" x2="205.70" y2="582.00" stroke="#000" stroke-width="0.7" />
<line x1="201.30" y1="598.00" x2="205.70" y2="598.00" stroke="#000" stroke-width="0.7" />
<line x1="201.30" y1="602.00" x2="205.70" y2="602.00" stroke="#000" stroke-width="0.7" />
<line x1="201.30" y1="612.50" x2="205.70" y2="612.50" stroke="#000" stroke-width="0.7" />
<text transform="translate(202.30 590.00) rotate(-90)" font-family="Liberation Sans" font-size="3.4" text-anchor="middle" font-weight="bold" fill="#000" >125</text>
<text transform="translate(202.30 607.00) rotate(-90)" font-family="Liberation Sans" font-size="3.4" text-anchor="middle" font-weight="bold" fill="#000" >35</text>
<line x1="201.00" y1="598.50" x2="221.00" y2="598.50" stroke="#222" stroke-width="0.75" />
<line x1="209.50" y1="596.30" x2="209.50" y2="600.70" stroke="#000" stroke-width="0.7" />
<line x1="215.00" y1="596.30" x2="215.00" y2="600.70" stroke="#000" stroke-width="0.7" />
<text transform="translate(219.50 597.50)" font-family="Liberation Sans" font-size="3.4" text-anchor="middle" font-weight="bold" fill="#000" >26</text>
<line x1="339.50" y1="580.00" x2="339.50" y2="632.00" stroke="#222" stroke-width="0.75" />
<line x1="337.30" y1="580.00" x2="341.70" y2="580.00" stroke="#000" stroke-width="0.7" />
<line x1="337.30" y1="620.00" x2="341.70" y2="620.00" stroke="#000" stroke-width="0.7" />
<line x1="337.30" y1="628.50" x2="341.70" y2="628.50" stroke="#000" stroke-width="0.7" />
<line x1="337.30" y1="632.00" x2="341.70" y2="632.00" stroke="#000" stroke-width="0.7" />
<text transform="translate(338.30 600.00) rotate(-90)" font-family="Liberation Sans" font-size="3.4" text-anchor="middle" font-weight="bold" fill="#000" >232</text>
<text transform="translate(338.30 624.00) rotate(-90)" font-family="Liberation Sans" font-size="3.4" text-anchor="middle" font-weight="bold" fill="#000" >25</text>
<line x1="333.00" y1="632.50" x2="381.50" y2="632.50" stroke="#222" stroke-width="0.75" />
<line x1="339.50" y1="630.30" x2="339.50" y2="634.70" stroke="#000" stroke-width="0.7" />
<line x1="344.50" y1="630.30" x2="344.50" y2="634.70" stroke="#000" stroke-width="0.7" />
<line x1="349.00" y1="630.30" x2="349.00" y2="634.70" stroke="#000" stroke-width="0.7" />
<line x1="381.50" y1="630.30" x2="381.50" y2="634.70" stroke="#000" stroke-width="0.7" />
<text transform="translate(336.50 631.50)" font-family="Liberation Sans" font-size="3.4" text-anchor="middle" font-weight="bold" fill="#000" >26</text>
<text transform="translate(365.00 631.50)" font-family="Liberation Sans" font-size="3.4" text-anchor="middle" font-weight="bold" fill="#000" >184</text>
<line x1="370.50" y1="560.00" x2="370.50" y2="580.00" stroke="#222" stroke-width="0.75" />
<line x1="368.30" y1="580.00" x2="372.70" y2="580.00" stroke="#000" stroke-width="0.7" />
<text transform="translate(369.30 565.00) rotate(-90)" font-family="Liberation Sans" font-size="3.4" text-anchor="middle" font-weight="bold" fill="#000" >25</text>
<line x1="476.50" y1="582.00" x2="476.50" y2="602.00" stroke="#222" stroke-width="0.75" />
<line x1="474.30" y1="582.00" x2="478.70" y2="582.00" stroke="#000" stroke-width="0.7" />
<line x1="474.30" y1="590.50" x2="478.70" y2="590.50" stroke="#000" stroke-width="0.7" />
<line x1="474.30" y1="598.00" x2="478.70" y2="598.00" stroke="#000" stroke-width="0.7" />
<text transform="translate(475.30 586.00) rotate(-90)" font-family="Liberation Sans" font-size="3.4" text-anchor="middle" font-weight="bold" fill="#000" >42</text>
<text transform="translate(475.30 594.50) rotate(-90)" font-family="Liberation Sans" font-size="3.4" text-anchor="middle" font-weight="bold" fill="#000" >30</text>
<line x1="468.00" y1="600.50" x2="493.00" y2="600.50" stroke="#222" stroke-width="0.75" />
<line x1="468.00" y1="598.30" x2="468.00" y2="602.70" stroke="#000" stroke-width="0.7" />
<line x1="481.50" y1="598.30" x2="481.50" y2="602.70" stroke="#000" stroke-width="0.7" />
<line x1="485.50" y1="598.30" x2="485.50" y2="602.70" stroke="#000" stroke-width="0.7" />
<line x1="493.00" y1="598.30" x2="493.00" y2="602.70" stroke="#000" stroke-width="0.7" />
<text transform="translate(472.00 599.50)" font-family="Liberation Sans" font-size="3.4" text-anchor="middle" font-weight="bold" fill="#000" >66</text>
<text transform="translate(490.50 599.50)" font-family="Liberation Sans" font-size="3.4" text-anchor="middle" font-weight="bold" fill="#000" >26</text>
<line x1="548.50" y1="337.00" x2="548.50" y2="365.00" stroke="#222" stroke-width="0.75" />
<line x1="546.30" y1="342.00" x2="550.70" y2="342.00" stroke="#000" stroke-width="0.7" />
<line x1="546.30" y1="345.50" x2="550.70" y2="345.50" stroke="#000" stroke-width="0.7" />
<line x1="546.30" y1="349.50" x2="550.70" y2="349.50" stroke="#000" stroke-width="0.7" />
<line x1="546.30" y1="357.50" x2="550.70" y2="357.50" stroke="#000" stroke-width="0.7" />
<text transform="translate(547.30 344.00) rotate(-90)" font-family="Liberation Sans" font-size="3.4" text-anchor="middle" font-weight="bold" fill="#000" >15</text>
<text transform="translate(547.30 351.00) rotate(-90)" font-family="Liberation Sans" font-size="3.4" text-anchor="middle" font-weight="bold" fill="#000" >23</text>
<text transform="translate(547.30 362.00) rotate(-90)" font-family="Liberation Sans" font-size="3.4" text-anchor="middle" font-weight="bold" fill="#000" >96</text>
<line x1="557.00" y1="354.50" x2="572.00" y2="354.50" stroke="#222" stroke-width="0.75" />
<line x1="560.50" y1="352.30" x2="560.50" y2="356.70" stroke="#000" stroke-width="0.7" />
<line x1="570.00" y1="352.30" x2="570.00" y2="356.70" stroke="#000" stroke-width="0.7" />
<text transform="translate(565.00 353.50)" font-family="Liberation Sans" font-size="3.4" text-anchor="middle" font-weight="bold" fill="#000" >54</text>
<line x1="553.50" y1="326.00" x2="553.50" y2="345.00" stroke="#222" stroke-width="0.75" />
<line x1="551.30" y1="345.00" x2="555.70" y2="345.00" stroke="#000" stroke-width="0.7" />
</g>
</svg>
</body></html>
